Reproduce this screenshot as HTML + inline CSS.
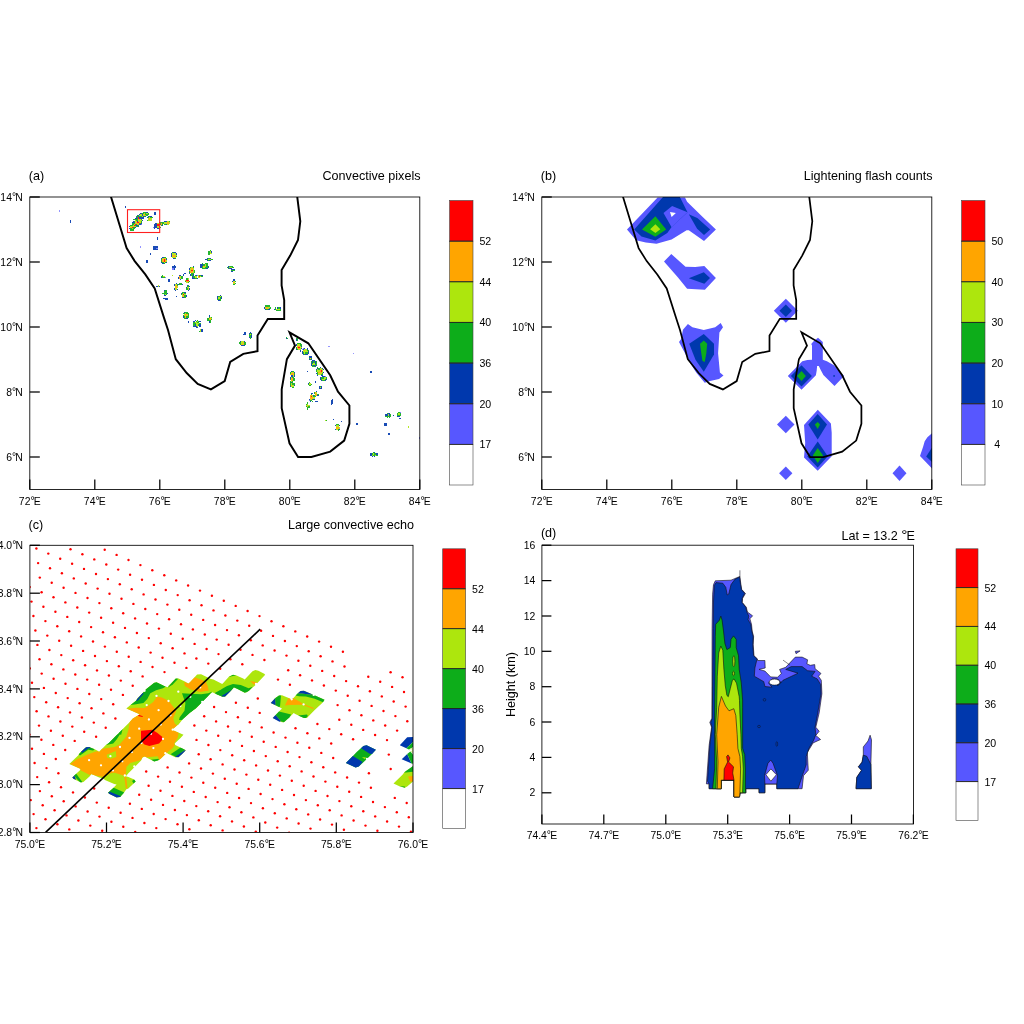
<!DOCTYPE html>
<html><head><meta charset="utf-8"><title>Figure</title>
<style>
html,body{margin:0;padding:0;background:#fff;}
svg{display:block;font-family:"Liberation Sans",sans-serif;fill:#000;}
</style></head><body>
<svg width="1024" height="1024" viewBox="0 0 1024 1024">
<rect width="1024" height="1024" fill="#fff"/>
<defs>
<clipPath id="ca"><rect x="30" y="197" width="390" height="292.3"/></clipPath>
<clipPath id="cb"><rect x="542" y="197" width="390" height="292.3"/></clipPath>
<clipPath id="cc"><rect x="30" y="546" width="383" height="286.3"/></clipPath>
<clipPath id="cd"><rect x="541.6" y="545.3" width="372" height="278"/></clipPath>
</defs>

<g id="panel-a">
<text x="28.8" y="179.8" font-size="12.60" text-anchor="start" >(a)</text>
<text x="420.5" y="179.8" font-size="12.60" text-anchor="end" >Convective pixels</text>
<g clip-path="url(#ca)" opacity="0.9" shape-rendering="crispEdges">
<rect x="125.28" y="205.55" width="1.20" height="1.20" fill="#0038ad"/>
<rect x="125.28" y="206.75" width="1.20" height="1.20" fill="#0038ad"/>
<rect x="129.12" y="225.82" width="1.20" height="1.20" fill="#0038ad"/>
<rect x="129.12" y="228.22" width="1.20" height="1.20" fill="#0038ad"/>
<rect x="130.32" y="224.62" width="1.20" height="1.20" fill="#0dad1a"/>
<rect x="130.32" y="225.82" width="1.20" height="1.20" fill="#ade60d"/>
<rect x="130.32" y="227.03" width="1.20" height="1.20" fill="#ffa500"/>
<rect x="130.32" y="228.22" width="1.20" height="1.20" fill="#0dad1a"/>
<rect x="130.32" y="229.43" width="1.20" height="1.20" fill="#0dad1a"/>
<rect x="131.53" y="225.82" width="1.20" height="1.20" fill="#ade60d"/>
<rect x="131.53" y="227.03" width="1.20" height="1.20" fill="#ff0000"/>
<rect x="131.53" y="228.22" width="1.20" height="1.20" fill="#ade60d"/>
<rect x="131.53" y="229.43" width="1.20" height="1.20" fill="#0dad1a"/>
<rect x="132.72" y="224.62" width="1.20" height="1.20" fill="#0038ad"/>
<rect x="132.72" y="225.82" width="1.20" height="1.20" fill="#0dad1a"/>
<rect x="132.72" y="227.03" width="1.20" height="1.20" fill="#ade60d"/>
<rect x="132.72" y="228.22" width="1.20" height="1.20" fill="#0dad1a"/>
<rect x="132.72" y="229.43" width="1.20" height="1.20" fill="#0dad1a"/>
<rect x="133.93" y="225.82" width="1.20" height="1.20" fill="#0038ad"/>
<rect x="133.93" y="227.03" width="1.20" height="1.20" fill="#0dad1a"/>
<rect x="133.93" y="228.22" width="1.20" height="1.20" fill="#0dad1a"/>
<rect x="131.55" y="222.25" width="1.20" height="1.20" fill="#0038ad"/>
<rect x="131.55" y="223.45" width="1.20" height="1.20" fill="#0dad1a"/>
<rect x="131.55" y="224.65" width="1.20" height="1.20" fill="#0dad1a"/>
<rect x="132.75" y="221.05" width="1.20" height="1.20" fill="#0038ad"/>
<rect x="132.75" y="222.25" width="1.20" height="1.20" fill="#0dad1a"/>
<rect x="132.75" y="223.45" width="1.20" height="1.20" fill="#0dad1a"/>
<rect x="132.75" y="224.65" width="1.20" height="1.20" fill="#ade60d"/>
<rect x="132.75" y="225.85" width="1.20" height="1.20" fill="#ade60d"/>
<rect x="132.75" y="227.05" width="1.20" height="1.20" fill="#0dad1a"/>
<rect x="133.95" y="221.05" width="1.20" height="1.20" fill="#0dad1a"/>
<rect x="133.95" y="222.25" width="1.20" height="1.20" fill="#ade60d"/>
<rect x="133.95" y="223.45" width="1.20" height="1.20" fill="#ffa500"/>
<rect x="133.95" y="224.65" width="1.20" height="1.20" fill="#ff0000"/>
<rect x="133.95" y="225.85" width="1.20" height="1.20" fill="#ffa500"/>
<rect x="133.95" y="227.05" width="1.20" height="1.20" fill="#0dad1a"/>
<rect x="135.15" y="221.05" width="1.20" height="1.20" fill="#0038ad"/>
<rect x="135.15" y="222.25" width="1.20" height="1.20" fill="#ade60d"/>
<rect x="135.15" y="223.45" width="1.20" height="1.20" fill="#ff0000"/>
<rect x="135.15" y="224.65" width="1.20" height="1.20" fill="#ff0000"/>
<rect x="135.15" y="225.85" width="1.20" height="1.20" fill="#ade60d"/>
<rect x="135.15" y="227.05" width="1.20" height="1.20" fill="#0038ad"/>
<rect x="136.35" y="223.45" width="1.20" height="1.20" fill="#ade60d"/>
<rect x="136.35" y="224.65" width="1.20" height="1.20" fill="#0dad1a"/>
<rect x="136.35" y="225.85" width="1.20" height="1.20" fill="#0dad1a"/>
<rect x="137.55" y="222.25" width="1.20" height="1.20" fill="#0038ad"/>
<rect x="137.55" y="223.45" width="1.20" height="1.20" fill="#0dad1a"/>
<rect x="137.55" y="224.65" width="1.20" height="1.20" fill="#0dad1a"/>
<rect x="137.55" y="225.85" width="1.20" height="1.20" fill="#0038ad"/>
<rect x="133.47" y="219.17" width="1.20" height="1.20" fill="#0dad1a"/>
<rect x="133.47" y="221.57" width="1.20" height="1.20" fill="#0038ad"/>
<rect x="133.47" y="222.78" width="1.20" height="1.20" fill="#0dad1a"/>
<rect x="134.67" y="217.97" width="1.20" height="1.20" fill="#0038ad"/>
<rect x="134.67" y="219.17" width="1.20" height="1.20" fill="#0dad1a"/>
<rect x="134.67" y="220.38" width="1.20" height="1.20" fill="#ade60d"/>
<rect x="134.67" y="221.57" width="1.20" height="1.20" fill="#ade60d"/>
<rect x="134.67" y="222.78" width="1.20" height="1.20" fill="#ade60d"/>
<rect x="134.67" y="225.17" width="1.20" height="1.20" fill="#0dad1a"/>
<rect x="135.88" y="217.97" width="1.20" height="1.20" fill="#0dad1a"/>
<rect x="135.88" y="219.17" width="1.20" height="1.20" fill="#ade60d"/>
<rect x="135.88" y="220.38" width="1.20" height="1.20" fill="#ffa500"/>
<rect x="135.88" y="221.57" width="1.20" height="1.20" fill="#ffa500"/>
<rect x="135.88" y="222.78" width="1.20" height="1.20" fill="#ffa500"/>
<rect x="135.88" y="223.97" width="1.20" height="1.20" fill="#0dad1a"/>
<rect x="135.88" y="225.17" width="1.20" height="1.20" fill="#0038ad"/>
<rect x="137.07" y="217.97" width="1.20" height="1.20" fill="#0038ad"/>
<rect x="137.07" y="219.17" width="1.20" height="1.20" fill="#ade60d"/>
<rect x="137.07" y="220.38" width="1.20" height="1.20" fill="#ffa500"/>
<rect x="137.07" y="221.57" width="1.20" height="1.20" fill="#ff0000"/>
<rect x="137.07" y="222.78" width="1.20" height="1.20" fill="#ffa500"/>
<rect x="137.07" y="223.97" width="1.20" height="1.20" fill="#ade60d"/>
<rect x="137.07" y="225.17" width="1.20" height="1.20" fill="#0038ad"/>
<rect x="138.28" y="219.17" width="1.20" height="1.20" fill="#ade60d"/>
<rect x="138.28" y="220.38" width="1.20" height="1.20" fill="#ffa500"/>
<rect x="138.28" y="221.57" width="1.20" height="1.20" fill="#ff0000"/>
<rect x="138.28" y="222.78" width="1.20" height="1.20" fill="#ffa500"/>
<rect x="138.28" y="223.97" width="1.20" height="1.20" fill="#ffa500"/>
<rect x="138.28" y="225.17" width="1.20" height="1.20" fill="#0dad1a"/>
<rect x="139.47" y="219.17" width="1.20" height="1.20" fill="#0038ad"/>
<rect x="139.47" y="220.38" width="1.20" height="1.20" fill="#ade60d"/>
<rect x="139.47" y="221.57" width="1.20" height="1.20" fill="#ffa500"/>
<rect x="139.47" y="222.78" width="1.20" height="1.20" fill="#0dad1a"/>
<rect x="139.47" y="223.97" width="1.20" height="1.20" fill="#0038ad"/>
<rect x="140.67" y="220.38" width="1.20" height="1.20" fill="#0dad1a"/>
<rect x="140.67" y="221.57" width="1.20" height="1.20" fill="#0dad1a"/>
<rect x="140.67" y="222.78" width="1.20" height="1.20" fill="#0038ad"/>
<rect x="140.67" y="223.97" width="1.20" height="1.20" fill="#6d6dff"/>
<rect x="136.05" y="216.25" width="1.20" height="1.20" fill="#0dad1a"/>
<rect x="136.05" y="217.45" width="1.20" height="1.20" fill="#0038ad"/>
<rect x="136.05" y="218.65" width="1.20" height="1.20" fill="#0dad1a"/>
<rect x="136.05" y="219.85" width="1.20" height="1.20" fill="#0dad1a"/>
<rect x="137.25" y="215.05" width="1.20" height="1.20" fill="#0038ad"/>
<rect x="137.25" y="216.25" width="1.20" height="1.20" fill="#0dad1a"/>
<rect x="137.25" y="217.45" width="1.20" height="1.20" fill="#0dad1a"/>
<rect x="137.25" y="218.65" width="1.20" height="1.20" fill="#0dad1a"/>
<rect x="137.25" y="219.85" width="1.20" height="1.20" fill="#0dad1a"/>
<rect x="137.25" y="221.05" width="1.20" height="1.20" fill="#0038ad"/>
<rect x="138.45" y="215.05" width="1.20" height="1.20" fill="#0dad1a"/>
<rect x="138.45" y="216.25" width="1.20" height="1.20" fill="#ffa500"/>
<rect x="138.45" y="217.45" width="1.20" height="1.20" fill="#ff0000"/>
<rect x="138.45" y="218.65" width="1.20" height="1.20" fill="#ffa500"/>
<rect x="138.45" y="219.85" width="1.20" height="1.20" fill="#ade60d"/>
<rect x="139.65" y="215.05" width="1.20" height="1.20" fill="#0038ad"/>
<rect x="139.65" y="216.25" width="1.20" height="1.20" fill="#ffa500"/>
<rect x="139.65" y="217.45" width="1.20" height="1.20" fill="#ff0000"/>
<rect x="139.65" y="218.65" width="1.20" height="1.20" fill="#ffa500"/>
<rect x="139.65" y="219.85" width="1.20" height="1.20" fill="#ade60d"/>
<rect x="140.85" y="215.05" width="1.20" height="1.20" fill="#0038ad"/>
<rect x="140.85" y="216.25" width="1.20" height="1.20" fill="#ade60d"/>
<rect x="140.85" y="217.45" width="1.20" height="1.20" fill="#ade60d"/>
<rect x="140.85" y="218.65" width="1.20" height="1.20" fill="#0dad1a"/>
<rect x="140.85" y="219.85" width="1.20" height="1.20" fill="#ade60d"/>
<rect x="140.85" y="221.05" width="1.20" height="1.20" fill="#0dad1a"/>
<rect x="142.05" y="216.25" width="1.20" height="1.20" fill="#0038ad"/>
<rect x="142.05" y="217.45" width="1.20" height="1.20" fill="#0dad1a"/>
<rect x="142.05" y="219.85" width="1.20" height="1.20" fill="#0038ad"/>
<rect x="138.05" y="215.03" width="1.20" height="1.20" fill="#0dad1a"/>
<rect x="138.05" y="216.22" width="1.20" height="1.20" fill="#0038ad"/>
<rect x="139.25" y="213.82" width="1.20" height="1.20" fill="#0038ad"/>
<rect x="139.25" y="215.03" width="1.20" height="1.20" fill="#ade60d"/>
<rect x="139.25" y="216.22" width="1.20" height="1.20" fill="#0dad1a"/>
<rect x="139.25" y="217.43" width="1.20" height="1.20" fill="#0038ad"/>
<rect x="140.45" y="212.62" width="1.20" height="1.20" fill="#0038ad"/>
<rect x="140.45" y="213.82" width="1.20" height="1.20" fill="#ade60d"/>
<rect x="140.45" y="215.03" width="1.20" height="1.20" fill="#ade60d"/>
<rect x="140.45" y="216.22" width="1.20" height="1.20" fill="#0dad1a"/>
<rect x="140.45" y="217.43" width="1.20" height="1.20" fill="#0038ad"/>
<rect x="141.65" y="212.62" width="1.20" height="1.20" fill="#0dad1a"/>
<rect x="141.65" y="213.82" width="1.20" height="1.20" fill="#ade60d"/>
<rect x="141.65" y="215.03" width="1.20" height="1.20" fill="#ade60d"/>
<rect x="141.65" y="216.22" width="1.20" height="1.20" fill="#ade60d"/>
<rect x="141.65" y="217.43" width="1.20" height="1.20" fill="#0038ad"/>
<rect x="142.85" y="212.62" width="1.20" height="1.20" fill="#0038ad"/>
<rect x="142.85" y="213.82" width="1.20" height="1.20" fill="#0dad1a"/>
<rect x="142.85" y="215.03" width="1.20" height="1.20" fill="#ade60d"/>
<rect x="142.85" y="216.22" width="1.20" height="1.20" fill="#0dad1a"/>
<rect x="142.85" y="217.43" width="1.20" height="1.20" fill="#0038ad"/>
<rect x="144.05" y="215.03" width="1.20" height="1.20" fill="#0038ad"/>
<rect x="144.05" y="216.22" width="1.20" height="1.20" fill="#0038ad"/>
<rect x="141.62" y="213.20" width="1.20" height="1.20" fill="#0dad1a"/>
<rect x="141.62" y="214.40" width="1.20" height="1.20" fill="#0038ad"/>
<rect x="142.82" y="212.00" width="1.20" height="1.20" fill="#0dad1a"/>
<rect x="142.82" y="213.20" width="1.20" height="1.20" fill="#0dad1a"/>
<rect x="142.82" y="214.40" width="1.20" height="1.20" fill="#ade60d"/>
<rect x="142.82" y="215.60" width="1.20" height="1.20" fill="#0038ad"/>
<rect x="144.03" y="212.00" width="1.20" height="1.20" fill="#0dad1a"/>
<rect x="144.03" y="213.20" width="1.20" height="1.20" fill="#ade60d"/>
<rect x="144.03" y="214.40" width="1.20" height="1.20" fill="#ffa500"/>
<rect x="144.03" y="215.60" width="1.20" height="1.20" fill="#0dad1a"/>
<rect x="145.22" y="212.00" width="1.20" height="1.20" fill="#0dad1a"/>
<rect x="145.22" y="213.20" width="1.20" height="1.20" fill="#ade60d"/>
<rect x="145.22" y="214.40" width="1.20" height="1.20" fill="#ade60d"/>
<rect x="145.22" y="215.60" width="1.20" height="1.20" fill="#0038ad"/>
<rect x="146.43" y="213.20" width="1.20" height="1.20" fill="#0038ad"/>
<rect x="146.43" y="214.40" width="1.20" height="1.20" fill="#0dad1a"/>
<rect x="145.28" y="211.78" width="1.20" height="1.20" fill="#0dad1a"/>
<rect x="145.28" y="212.97" width="1.20" height="1.20" fill="#0dad1a"/>
<rect x="145.28" y="214.18" width="1.20" height="1.20" fill="#0dad1a"/>
<rect x="146.47" y="211.78" width="1.20" height="1.20" fill="#0038ad"/>
<rect x="146.47" y="212.97" width="1.20" height="1.20" fill="#ade60d"/>
<rect x="146.47" y="214.18" width="1.20" height="1.20" fill="#0dad1a"/>
<rect x="147.68" y="212.97" width="1.20" height="1.20" fill="#0dad1a"/>
<rect x="147.68" y="214.18" width="1.20" height="1.20" fill="#0dad1a"/>
<rect x="146.82" y="217.22" width="1.20" height="1.20" fill="#0038ad"/>
<rect x="146.82" y="219.62" width="1.20" height="1.20" fill="#0dad1a"/>
<rect x="148.02" y="216.03" width="1.20" height="1.20" fill="#0038ad"/>
<rect x="148.02" y="217.22" width="1.20" height="1.20" fill="#0dad1a"/>
<rect x="148.02" y="218.43" width="1.20" height="1.20" fill="#ade60d"/>
<rect x="148.02" y="219.62" width="1.20" height="1.20" fill="#ade60d"/>
<rect x="149.22" y="216.03" width="1.20" height="1.20" fill="#0dad1a"/>
<rect x="149.22" y="217.22" width="1.20" height="1.20" fill="#ade60d"/>
<rect x="149.22" y="218.43" width="1.20" height="1.20" fill="#ffa500"/>
<rect x="149.22" y="219.62" width="1.20" height="1.20" fill="#ade60d"/>
<rect x="150.42" y="216.03" width="1.20" height="1.20" fill="#0038ad"/>
<rect x="150.42" y="217.22" width="1.20" height="1.20" fill="#0dad1a"/>
<rect x="150.42" y="218.43" width="1.20" height="1.20" fill="#ade60d"/>
<rect x="150.42" y="219.62" width="1.20" height="1.20" fill="#ade60d"/>
<rect x="151.62" y="217.22" width="1.20" height="1.20" fill="#0dad1a"/>
<rect x="153.55" y="211.68" width="1.20" height="1.20" fill="#0038ad"/>
<rect x="153.55" y="212.88" width="1.20" height="1.20" fill="#0038ad"/>
<rect x="153.55" y="214.08" width="1.20" height="1.20" fill="#0038ad"/>
<rect x="154.75" y="211.68" width="1.20" height="1.20" fill="#0038ad"/>
<rect x="154.75" y="212.88" width="1.20" height="1.20" fill="#0038ad"/>
<rect x="154.75" y="214.08" width="1.20" height="1.20" fill="#0038ad"/>
<rect x="152.70" y="226.72" width="1.20" height="1.20" fill="#6d6dff"/>
<rect x="153.90" y="224.32" width="1.20" height="1.20" fill="#0038ad"/>
<rect x="153.90" y="225.53" width="1.20" height="1.20" fill="#0038ad"/>
<rect x="153.90" y="226.72" width="1.20" height="1.20" fill="#0038ad"/>
<rect x="153.90" y="227.93" width="1.20" height="1.20" fill="#0038ad"/>
<rect x="155.10" y="223.12" width="1.20" height="1.20" fill="#0038ad"/>
<rect x="155.10" y="224.32" width="1.20" height="1.20" fill="#0038ad"/>
<rect x="155.10" y="225.53" width="1.20" height="1.20" fill="#0038ad"/>
<rect x="155.10" y="226.72" width="1.20" height="1.20" fill="#0038ad"/>
<rect x="156.30" y="225.53" width="1.20" height="1.20" fill="#0038ad"/>
<rect x="156.30" y="226.72" width="1.20" height="1.20" fill="#0038ad"/>
<rect x="156.20" y="223.25" width="1.20" height="1.20" fill="#0038ad"/>
<rect x="156.20" y="224.45" width="1.20" height="1.20" fill="#0038ad"/>
<rect x="156.20" y="225.65" width="1.20" height="1.20" fill="#0038ad"/>
<rect x="156.20" y="226.85" width="1.20" height="1.20" fill="#0038ad"/>
<rect x="157.40" y="223.25" width="1.20" height="1.20" fill="#ade60d"/>
<rect x="157.40" y="224.45" width="1.20" height="1.20" fill="#ff0000"/>
<rect x="157.40" y="225.65" width="1.20" height="1.20" fill="#ade60d"/>
<rect x="157.40" y="226.85" width="1.20" height="1.20" fill="#ade60d"/>
<rect x="157.40" y="228.05" width="1.20" height="1.20" fill="#0038ad"/>
<rect x="158.60" y="222.05" width="1.20" height="1.20" fill="#0dad1a"/>
<rect x="158.60" y="223.25" width="1.20" height="1.20" fill="#ade60d"/>
<rect x="158.60" y="224.45" width="1.20" height="1.20" fill="#ffa500"/>
<rect x="158.60" y="225.65" width="1.20" height="1.20" fill="#ff0000"/>
<rect x="158.60" y="226.85" width="1.20" height="1.20" fill="#ade60d"/>
<rect x="158.60" y="228.05" width="1.20" height="1.20" fill="#0dad1a"/>
<rect x="159.80" y="223.25" width="1.20" height="1.20" fill="#0dad1a"/>
<rect x="159.80" y="226.85" width="1.20" height="1.20" fill="#0dad1a"/>
<rect x="158.62" y="223.90" width="1.20" height="1.20" fill="#0dad1a"/>
<rect x="159.82" y="221.50" width="1.20" height="1.20" fill="#0dad1a"/>
<rect x="159.82" y="222.70" width="1.20" height="1.20" fill="#0dad1a"/>
<rect x="159.82" y="223.90" width="1.20" height="1.20" fill="#0dad1a"/>
<rect x="161.03" y="221.50" width="1.20" height="1.20" fill="#0dad1a"/>
<rect x="161.03" y="222.70" width="1.20" height="1.20" fill="#ffa500"/>
<rect x="161.03" y="223.90" width="1.20" height="1.20" fill="#ffa500"/>
<rect x="161.03" y="225.10" width="1.20" height="1.20" fill="#0dad1a"/>
<rect x="162.22" y="221.50" width="1.20" height="1.20" fill="#0dad1a"/>
<rect x="162.22" y="222.70" width="1.20" height="1.20" fill="#0dad1a"/>
<rect x="162.22" y="223.90" width="1.20" height="1.20" fill="#0dad1a"/>
<rect x="162.22" y="225.10" width="1.20" height="1.20" fill="#0038ad"/>
<rect x="163.43" y="222.70" width="1.20" height="1.20" fill="#0dad1a"/>
<rect x="163.28" y="222.47" width="1.20" height="1.20" fill="#0dad1a"/>
<rect x="164.47" y="221.28" width="1.20" height="1.20" fill="#0038ad"/>
<rect x="164.47" y="222.47" width="1.20" height="1.20" fill="#ade60d"/>
<rect x="164.47" y="223.68" width="1.20" height="1.20" fill="#0dad1a"/>
<rect x="165.68" y="221.28" width="1.20" height="1.20" fill="#0038ad"/>
<rect x="165.68" y="222.47" width="1.20" height="1.20" fill="#0dad1a"/>
<rect x="165.68" y="223.68" width="1.20" height="1.20" fill="#0038ad"/>
<rect x="166.28" y="221.28" width="1.20" height="1.20" fill="#0038ad"/>
<rect x="166.28" y="222.47" width="1.20" height="1.20" fill="#ade60d"/>
<rect x="166.28" y="223.68" width="1.20" height="1.20" fill="#0038ad"/>
<rect x="167.47" y="221.28" width="1.20" height="1.20" fill="#ade60d"/>
<rect x="167.47" y="222.47" width="1.20" height="1.20" fill="#ffa500"/>
<rect x="167.47" y="223.68" width="1.20" height="1.20" fill="#ade60d"/>
<rect x="168.68" y="221.28" width="1.20" height="1.20" fill="#0dad1a"/>
<rect x="168.68" y="222.47" width="1.20" height="1.20" fill="#ade60d"/>
<rect x="157.24" y="237.25" width="1.20" height="1.20" fill="#0038ad"/>
<rect x="157.24" y="238.45" width="1.20" height="1.20" fill="#0038ad"/>
<rect x="139.6" y="246.2" width="1.5" height="1.5" fill="#8a8aff"/>
<rect x="152.70" y="246.38" width="1.20" height="1.20" fill="#0038ad"/>
<rect x="152.70" y="247.57" width="1.20" height="1.20" fill="#0038ad"/>
<rect x="152.70" y="248.78" width="1.20" height="1.20" fill="#0038ad"/>
<rect x="153.90" y="246.38" width="1.20" height="1.20" fill="#0038ad"/>
<rect x="153.90" y="247.57" width="1.20" height="1.20" fill="#0038ad"/>
<rect x="153.90" y="248.78" width="1.20" height="1.20" fill="#0038ad"/>
<rect x="155.10" y="246.38" width="1.20" height="1.20" fill="#0038ad"/>
<rect x="155.10" y="247.57" width="1.20" height="1.20" fill="#0038ad"/>
<rect x="155.10" y="248.78" width="1.20" height="1.20" fill="#0038ad"/>
<rect x="156.30" y="246.38" width="1.20" height="1.20" fill="#0038ad"/>
<rect x="156.30" y="247.57" width="1.20" height="1.20" fill="#6d6dff"/>
<rect x="156.30" y="248.78" width="1.20" height="1.20" fill="#0038ad"/>
<rect x="149.94" y="253.06" width="1.20" height="1.20" fill="#0038ad"/>
<rect x="149.94" y="254.26" width="1.20" height="1.20" fill="#0038ad"/>
<rect x="146.34" y="260.25" width="1.20" height="1.20" fill="#0038ad"/>
<rect x="146.34" y="261.45" width="1.20" height="1.20" fill="#0038ad"/>
<rect x="161.22" y="258.05" width="1.20" height="1.20" fill="#0038ad"/>
<rect x="161.22" y="259.25" width="1.20" height="1.20" fill="#0dad1a"/>
<rect x="161.22" y="260.45" width="1.20" height="1.20" fill="#0dad1a"/>
<rect x="161.22" y="261.65" width="1.20" height="1.20" fill="#0038ad"/>
<rect x="162.42" y="256.85" width="1.20" height="1.20" fill="#0038ad"/>
<rect x="162.42" y="258.05" width="1.20" height="1.20" fill="#ade60d"/>
<rect x="162.42" y="259.25" width="1.20" height="1.20" fill="#ffa500"/>
<rect x="162.42" y="260.45" width="1.20" height="1.20" fill="#ffa500"/>
<rect x="162.42" y="261.65" width="1.20" height="1.20" fill="#0dad1a"/>
<rect x="162.42" y="262.85" width="1.20" height="1.20" fill="#0038ad"/>
<rect x="163.62" y="256.85" width="1.20" height="1.20" fill="#0dad1a"/>
<rect x="163.62" y="258.05" width="1.20" height="1.20" fill="#ffa500"/>
<rect x="163.62" y="259.25" width="1.20" height="1.20" fill="#ff0000"/>
<rect x="163.62" y="260.45" width="1.20" height="1.20" fill="#ff0000"/>
<rect x="163.62" y="261.65" width="1.20" height="1.20" fill="#ade60d"/>
<rect x="163.62" y="262.85" width="1.20" height="1.20" fill="#0dad1a"/>
<rect x="164.82" y="256.85" width="1.20" height="1.20" fill="#0dad1a"/>
<rect x="164.82" y="258.05" width="1.20" height="1.20" fill="#ade60d"/>
<rect x="164.82" y="259.25" width="1.20" height="1.20" fill="#ffa500"/>
<rect x="164.82" y="260.45" width="1.20" height="1.20" fill="#ffa500"/>
<rect x="164.82" y="261.65" width="1.20" height="1.20" fill="#0dad1a"/>
<rect x="166.03" y="258.05" width="1.20" height="1.20" fill="#0dad1a"/>
<rect x="166.03" y="259.25" width="1.20" height="1.20" fill="#0038ad"/>
<rect x="166.03" y="260.45" width="1.20" height="1.20" fill="#ade60d"/>
<rect x="166.03" y="261.65" width="1.20" height="1.20" fill="#0038ad"/>
<rect x="170.93" y="253.35" width="1.20" height="1.20" fill="#0038ad"/>
<rect x="170.93" y="254.55" width="1.20" height="1.20" fill="#0038ad"/>
<rect x="170.93" y="255.75" width="1.20" height="1.20" fill="#0038ad"/>
<rect x="172.12" y="252.15" width="1.20" height="1.20" fill="#0dad1a"/>
<rect x="172.12" y="253.35" width="1.20" height="1.20" fill="#ade60d"/>
<rect x="172.12" y="254.55" width="1.20" height="1.20" fill="#ffa500"/>
<rect x="172.12" y="255.75" width="1.20" height="1.20" fill="#ade60d"/>
<rect x="172.12" y="256.95" width="1.20" height="1.20" fill="#ade60d"/>
<rect x="173.33" y="252.15" width="1.20" height="1.20" fill="#0038ad"/>
<rect x="173.33" y="253.35" width="1.20" height="1.20" fill="#ade60d"/>
<rect x="173.33" y="254.55" width="1.20" height="1.20" fill="#ffa500"/>
<rect x="173.33" y="255.75" width="1.20" height="1.20" fill="#ffa500"/>
<rect x="173.33" y="256.95" width="1.20" height="1.20" fill="#ade60d"/>
<rect x="173.33" y="258.15" width="1.20" height="1.20" fill="#0038ad"/>
<rect x="174.53" y="252.15" width="1.20" height="1.20" fill="#0038ad"/>
<rect x="174.53" y="253.35" width="1.20" height="1.20" fill="#ade60d"/>
<rect x="174.53" y="254.55" width="1.20" height="1.20" fill="#ade60d"/>
<rect x="174.53" y="255.75" width="1.20" height="1.20" fill="#ffa500"/>
<rect x="174.53" y="256.95" width="1.20" height="1.20" fill="#ade60d"/>
<rect x="174.53" y="258.15" width="1.20" height="1.20" fill="#0dad1a"/>
<rect x="175.73" y="253.35" width="1.20" height="1.20" fill="#0038ad"/>
<rect x="175.73" y="254.55" width="1.20" height="1.20" fill="#ade60d"/>
<rect x="175.73" y="255.75" width="1.20" height="1.20" fill="#0dad1a"/>
<rect x="172.38" y="265.90" width="1.20" height="1.20" fill="#0038ad"/>
<rect x="172.38" y="267.10" width="1.20" height="1.20" fill="#0038ad"/>
<rect x="172.38" y="268.30" width="1.20" height="1.20" fill="#6d6dff"/>
<rect x="173.57" y="264.70" width="1.20" height="1.20" fill="#0038ad"/>
<rect x="173.57" y="265.90" width="1.20" height="1.20" fill="#0038ad"/>
<rect x="173.57" y="267.10" width="1.20" height="1.20" fill="#0038ad"/>
<rect x="173.57" y="268.30" width="1.20" height="1.20" fill="#0038ad"/>
<rect x="174.78" y="265.90" width="1.20" height="1.20" fill="#0038ad"/>
<rect x="174.78" y="267.10" width="1.20" height="1.20" fill="#0038ad"/>
<rect x="208.47" y="251.40" width="1.20" height="1.20" fill="#0dad1a"/>
<rect x="208.47" y="252.60" width="1.20" height="1.20" fill="#0dad1a"/>
<rect x="208.47" y="253.80" width="1.20" height="1.20" fill="#0dad1a"/>
<rect x="209.67" y="250.20" width="1.20" height="1.20" fill="#0dad1a"/>
<rect x="209.67" y="251.40" width="1.20" height="1.20" fill="#ade60d"/>
<rect x="209.67" y="252.60" width="1.20" height="1.20" fill="#ade60d"/>
<rect x="210.88" y="251.40" width="1.20" height="1.20" fill="#0038ad"/>
<rect x="210.88" y="252.60" width="1.20" height="1.20" fill="#ade60d"/>
<rect x="205.45" y="258.97" width="1.20" height="1.20" fill="#0038ad"/>
<rect x="206.65" y="257.77" width="1.20" height="1.20" fill="#0038ad"/>
<rect x="206.65" y="258.97" width="1.20" height="1.20" fill="#0dad1a"/>
<rect x="206.65" y="260.17" width="1.20" height="1.20" fill="#0038ad"/>
<rect x="207.85" y="257.77" width="1.20" height="1.20" fill="#0dad1a"/>
<rect x="207.85" y="258.97" width="1.20" height="1.20" fill="#ade60d"/>
<rect x="207.85" y="260.17" width="1.20" height="1.20" fill="#0dad1a"/>
<rect x="209.05" y="257.77" width="1.20" height="1.20" fill="#0dad1a"/>
<rect x="209.05" y="258.97" width="1.20" height="1.20" fill="#ade60d"/>
<rect x="209.05" y="260.17" width="1.20" height="1.20" fill="#0038ad"/>
<rect x="210.25" y="257.77" width="1.20" height="1.20" fill="#0038ad"/>
<rect x="210.25" y="258.97" width="1.20" height="1.20" fill="#ade60d"/>
<rect x="210.25" y="260.17" width="1.20" height="1.20" fill="#0038ad"/>
<rect x="211.45" y="258.97" width="1.20" height="1.20" fill="#0dad1a"/>
<rect x="200.38" y="264.43" width="1.20" height="1.20" fill="#0038ad"/>
<rect x="200.38" y="265.62" width="1.20" height="1.20" fill="#0038ad"/>
<rect x="200.38" y="266.83" width="1.20" height="1.20" fill="#0038ad"/>
<rect x="201.57" y="263.23" width="1.20" height="1.20" fill="#0dad1a"/>
<rect x="201.57" y="264.43" width="1.20" height="1.20" fill="#0038ad"/>
<rect x="201.57" y="265.62" width="1.20" height="1.20" fill="#0dad1a"/>
<rect x="201.57" y="266.83" width="1.20" height="1.20" fill="#0dad1a"/>
<rect x="201.57" y="268.03" width="1.20" height="1.20" fill="#0dad1a"/>
<rect x="202.78" y="264.43" width="1.20" height="1.20" fill="#0dad1a"/>
<rect x="202.78" y="265.62" width="1.20" height="1.20" fill="#ffa500"/>
<rect x="202.78" y="266.83" width="1.20" height="1.20" fill="#ade60d"/>
<rect x="202.78" y="268.03" width="1.20" height="1.20" fill="#0dad1a"/>
<rect x="203.97" y="264.43" width="1.20" height="1.20" fill="#0dad1a"/>
<rect x="203.97" y="265.62" width="1.20" height="1.20" fill="#ffa500"/>
<rect x="203.97" y="266.83" width="1.20" height="1.20" fill="#ade60d"/>
<rect x="203.97" y="268.03" width="1.20" height="1.20" fill="#0dad1a"/>
<rect x="205.18" y="263.23" width="1.20" height="1.20" fill="#0dad1a"/>
<rect x="205.18" y="264.43" width="1.20" height="1.20" fill="#ade60d"/>
<rect x="205.18" y="265.62" width="1.20" height="1.20" fill="#ade60d"/>
<rect x="205.18" y="266.83" width="1.20" height="1.20" fill="#0dad1a"/>
<rect x="205.18" y="268.03" width="1.20" height="1.20" fill="#0dad1a"/>
<rect x="206.38" y="263.23" width="1.20" height="1.20" fill="#0dad1a"/>
<rect x="206.38" y="264.43" width="1.20" height="1.20" fill="#0dad1a"/>
<rect x="206.38" y="265.62" width="1.20" height="1.20" fill="#0dad1a"/>
<rect x="206.38" y="266.83" width="1.20" height="1.20" fill="#0dad1a"/>
<rect x="206.38" y="268.03" width="1.20" height="1.20" fill="#0038ad"/>
<rect x="207.57" y="265.62" width="1.20" height="1.20" fill="#0038ad"/>
<rect x="207.57" y="266.83" width="1.20" height="1.20" fill="#0038ad"/>
<rect x="189.03" y="268.30" width="1.20" height="1.20" fill="#0038ad"/>
<rect x="189.03" y="269.50" width="1.20" height="1.20" fill="#ade60d"/>
<rect x="189.03" y="270.70" width="1.20" height="1.20" fill="#0dad1a"/>
<rect x="189.03" y="271.90" width="1.20" height="1.20" fill="#0038ad"/>
<rect x="189.03" y="273.10" width="1.20" height="1.20" fill="#0dad1a"/>
<rect x="190.22" y="267.10" width="1.20" height="1.20" fill="#0dad1a"/>
<rect x="190.22" y="268.30" width="1.20" height="1.20" fill="#ade60d"/>
<rect x="190.22" y="269.50" width="1.20" height="1.20" fill="#ade60d"/>
<rect x="190.22" y="270.70" width="1.20" height="1.20" fill="#ffa500"/>
<rect x="190.22" y="271.90" width="1.20" height="1.20" fill="#ffa500"/>
<rect x="190.22" y="274.30" width="1.20" height="1.20" fill="#0038ad"/>
<rect x="191.43" y="267.10" width="1.20" height="1.20" fill="#ade60d"/>
<rect x="191.43" y="268.30" width="1.20" height="1.20" fill="#ffa500"/>
<rect x="191.43" y="269.50" width="1.20" height="1.20" fill="#ff0000"/>
<rect x="191.43" y="270.70" width="1.20" height="1.20" fill="#ffa500"/>
<rect x="191.43" y="271.90" width="1.20" height="1.20" fill="#ffa500"/>
<rect x="191.43" y="273.10" width="1.20" height="1.20" fill="#0dad1a"/>
<rect x="191.43" y="274.30" width="1.20" height="1.20" fill="#0dad1a"/>
<rect x="192.62" y="265.90" width="1.20" height="1.20" fill="#0038ad"/>
<rect x="192.62" y="267.10" width="1.20" height="1.20" fill="#0dad1a"/>
<rect x="192.62" y="268.30" width="1.20" height="1.20" fill="#ade60d"/>
<rect x="192.62" y="269.50" width="1.20" height="1.20" fill="#ade60d"/>
<rect x="192.62" y="270.70" width="1.20" height="1.20" fill="#ade60d"/>
<rect x="192.62" y="271.90" width="1.20" height="1.20" fill="#ade60d"/>
<rect x="192.62" y="273.10" width="1.20" height="1.20" fill="#0dad1a"/>
<rect x="192.62" y="274.30" width="1.20" height="1.20" fill="#0038ad"/>
<rect x="193.83" y="269.50" width="1.20" height="1.20" fill="#0dad1a"/>
<rect x="193.83" y="270.70" width="1.20" height="1.20" fill="#0dad1a"/>
<rect x="193.83" y="271.90" width="1.20" height="1.20" fill="#0dad1a"/>
<rect x="192.12" y="275.27" width="1.20" height="1.20" fill="#0dad1a"/>
<rect x="192.12" y="276.47" width="1.20" height="1.20" fill="#0038ad"/>
<rect x="192.12" y="277.67" width="1.20" height="1.20" fill="#0038ad"/>
<rect x="193.32" y="276.47" width="1.20" height="1.20" fill="#0dad1a"/>
<rect x="193.32" y="277.67" width="1.20" height="1.20" fill="#0038ad"/>
<rect x="194.53" y="275.27" width="1.20" height="1.20" fill="#0dad1a"/>
<rect x="194.53" y="276.47" width="1.20" height="1.20" fill="#ade60d"/>
<rect x="194.53" y="277.67" width="1.20" height="1.20" fill="#0dad1a"/>
<rect x="195.72" y="275.27" width="1.20" height="1.20" fill="#0038ad"/>
<rect x="195.72" y="276.47" width="1.20" height="1.20" fill="#ade60d"/>
<rect x="195.72" y="277.67" width="1.20" height="1.20" fill="#0dad1a"/>
<rect x="196.93" y="277.67" width="1.20" height="1.20" fill="#0038ad"/>
<rect x="196.62" y="274.77" width="1.20" height="1.20" fill="#6d6dff"/>
<rect x="197.82" y="274.77" width="1.20" height="1.20" fill="#ade60d"/>
<rect x="197.82" y="275.97" width="1.20" height="1.20" fill="#ffa500"/>
<rect x="197.82" y="277.17" width="1.20" height="1.20" fill="#ade60d"/>
<rect x="199.03" y="274.77" width="1.20" height="1.20" fill="#0dad1a"/>
<rect x="199.03" y="275.97" width="1.20" height="1.20" fill="#ff0000"/>
<rect x="199.03" y="277.17" width="1.20" height="1.20" fill="#ade60d"/>
<rect x="200.22" y="274.77" width="1.20" height="1.20" fill="#0dad1a"/>
<rect x="200.22" y="275.97" width="1.20" height="1.20" fill="#ade60d"/>
<rect x="201.43" y="274.77" width="1.20" height="1.20" fill="#0038ad"/>
<rect x="201.43" y="275.97" width="1.20" height="1.20" fill="#0dad1a"/>
<rect x="185.20" y="279.50" width="1.20" height="1.20" fill="#ade60d"/>
<rect x="185.20" y="280.70" width="1.20" height="1.20" fill="#0dad1a"/>
<rect x="186.40" y="278.30" width="1.20" height="1.20" fill="#0dad1a"/>
<rect x="186.40" y="279.50" width="1.20" height="1.20" fill="#ff0000"/>
<rect x="186.40" y="280.70" width="1.20" height="1.20" fill="#ffa500"/>
<rect x="186.40" y="281.90" width="1.20" height="1.20" fill="#ade60d"/>
<rect x="187.60" y="278.30" width="1.20" height="1.20" fill="#ade60d"/>
<rect x="187.60" y="279.50" width="1.20" height="1.20" fill="#ff0000"/>
<rect x="187.60" y="280.70" width="1.20" height="1.20" fill="#ffa500"/>
<rect x="187.60" y="281.90" width="1.20" height="1.20" fill="#0dad1a"/>
<rect x="188.80" y="280.70" width="1.20" height="1.20" fill="#0dad1a"/>
<rect x="177.70" y="277.30" width="1.20" height="1.20" fill="#0038ad"/>
<rect x="178.90" y="274.90" width="1.20" height="1.20" fill="#0038ad"/>
<rect x="178.90" y="276.10" width="1.20" height="1.20" fill="#ffa500"/>
<rect x="178.90" y="277.30" width="1.20" height="1.20" fill="#ffa500"/>
<rect x="180.10" y="274.90" width="1.20" height="1.20" fill="#0038ad"/>
<rect x="180.10" y="276.10" width="1.20" height="1.20" fill="#ade60d"/>
<rect x="180.10" y="277.30" width="1.20" height="1.20" fill="#ade60d"/>
<rect x="180.10" y="278.50" width="1.20" height="1.20" fill="#0038ad"/>
<rect x="181.30" y="276.10" width="1.20" height="1.20" fill="#0dad1a"/>
<rect x="181.30" y="277.30" width="1.20" height="1.20" fill="#0dad1a"/>
<rect x="183.25" y="274.45" width="1.20" height="1.20" fill="#0038ad"/>
<rect x="184.45" y="273.25" width="1.20" height="1.20" fill="#0038ad"/>
<rect x="161.00" y="275.77" width="1.20" height="1.20" fill="#0dad1a"/>
<rect x="161.00" y="276.97" width="1.20" height="1.20" fill="#0038ad"/>
<rect x="162.20" y="274.57" width="1.20" height="1.20" fill="#0dad1a"/>
<rect x="162.20" y="275.77" width="1.20" height="1.20" fill="#0dad1a"/>
<rect x="162.20" y="276.97" width="1.20" height="1.20" fill="#0dad1a"/>
<rect x="163.40" y="275.77" width="1.20" height="1.20" fill="#ade60d"/>
<rect x="163.40" y="276.97" width="1.20" height="1.20" fill="#0dad1a"/>
<rect x="164.60" y="276.97" width="1.20" height="1.20" fill="#6d6dff"/>
<rect x="167.65" y="278.88" width="1.20" height="1.20" fill="#0038ad"/>
<rect x="167.65" y="280.07" width="1.20" height="1.20" fill="#0038ad"/>
<rect x="167.65" y="281.27" width="1.20" height="1.20" fill="#0038ad"/>
<rect x="168.85" y="278.88" width="1.20" height="1.20" fill="#0038ad"/>
<rect x="168.85" y="280.07" width="1.20" height="1.20" fill="#0038ad"/>
<rect x="168.85" y="281.27" width="1.20" height="1.20" fill="#0038ad"/>
<rect x="171.51" y="275.14" width="1.20" height="1.20" fill="#ade60d"/>
<rect x="156.38" y="286.15" width="1.20" height="1.20" fill="#0038ad"/>
<rect x="157.57" y="284.95" width="1.20" height="1.20" fill="#ade60d"/>
<rect x="157.57" y="286.15" width="1.20" height="1.20" fill="#ade60d"/>
<rect x="158.78" y="286.15" width="1.20" height="1.20" fill="#0038ad"/>
<rect x="173.50" y="284.07" width="1.20" height="1.20" fill="#0038ad"/>
<rect x="173.50" y="285.27" width="1.20" height="1.20" fill="#0038ad"/>
<rect x="173.50" y="287.68" width="1.20" height="1.20" fill="#0038ad"/>
<rect x="173.50" y="288.88" width="1.20" height="1.20" fill="#0038ad"/>
<rect x="174.70" y="284.07" width="1.20" height="1.20" fill="#ade60d"/>
<rect x="174.70" y="285.27" width="1.20" height="1.20" fill="#ade60d"/>
<rect x="174.70" y="286.48" width="1.20" height="1.20" fill="#ffa500"/>
<rect x="174.70" y="287.68" width="1.20" height="1.20" fill="#ade60d"/>
<rect x="174.70" y="288.88" width="1.20" height="1.20" fill="#ade60d"/>
<rect x="174.70" y="290.07" width="1.20" height="1.20" fill="#0038ad"/>
<rect x="175.90" y="282.88" width="1.20" height="1.20" fill="#0038ad"/>
<rect x="175.90" y="284.07" width="1.20" height="1.20" fill="#ade60d"/>
<rect x="175.90" y="285.27" width="1.20" height="1.20" fill="#ffa500"/>
<rect x="175.90" y="286.48" width="1.20" height="1.20" fill="#ffa500"/>
<rect x="175.90" y="287.68" width="1.20" height="1.20" fill="#ade60d"/>
<rect x="175.90" y="288.88" width="1.20" height="1.20" fill="#ade60d"/>
<rect x="177.10" y="284.07" width="1.20" height="1.20" fill="#0dad1a"/>
<rect x="177.10" y="285.27" width="1.20" height="1.20" fill="#0dad1a"/>
<rect x="177.10" y="286.48" width="1.20" height="1.20" fill="#ade60d"/>
<rect x="177.10" y="288.88" width="1.20" height="1.20" fill="#0038ad"/>
<rect x="178.20" y="283.85" width="1.20" height="1.20" fill="#0038ad"/>
<rect x="179.40" y="282.65" width="1.20" height="1.20" fill="#0dad1a"/>
<rect x="179.40" y="283.85" width="1.20" height="1.20" fill="#0dad1a"/>
<rect x="180.60" y="282.65" width="1.20" height="1.20" fill="#0dad1a"/>
<rect x="180.60" y="283.85" width="1.20" height="1.20" fill="#0dad1a"/>
<rect x="181.80" y="283.85" width="1.20" height="1.20" fill="#0038ad"/>
<rect x="185.50" y="287.22" width="1.20" height="1.20" fill="#0038ad"/>
<rect x="185.50" y="288.43" width="1.20" height="1.20" fill="#0dad1a"/>
<rect x="186.70" y="284.82" width="1.20" height="1.20" fill="#0038ad"/>
<rect x="186.70" y="286.02" width="1.20" height="1.20" fill="#0dad1a"/>
<rect x="186.70" y="287.22" width="1.20" height="1.20" fill="#ade60d"/>
<rect x="186.70" y="288.43" width="1.20" height="1.20" fill="#0dad1a"/>
<rect x="187.90" y="284.82" width="1.20" height="1.20" fill="#0dad1a"/>
<rect x="187.90" y="286.02" width="1.20" height="1.20" fill="#0dad1a"/>
<rect x="187.90" y="287.22" width="1.20" height="1.20" fill="#ade60d"/>
<rect x="187.90" y="288.43" width="1.20" height="1.20" fill="#ade60d"/>
<rect x="187.90" y="289.62" width="1.20" height="1.20" fill="#0038ad"/>
<rect x="189.10" y="286.02" width="1.20" height="1.20" fill="#0038ad"/>
<rect x="189.10" y="288.43" width="1.20" height="1.20" fill="#0038ad"/>
<rect x="162.43" y="292.62" width="1.20" height="1.20" fill="#0dad1a"/>
<rect x="163.62" y="290.23" width="1.20" height="1.20" fill="#0038ad"/>
<rect x="163.62" y="291.43" width="1.20" height="1.20" fill="#0dad1a"/>
<rect x="163.62" y="292.62" width="1.20" height="1.20" fill="#0dad1a"/>
<rect x="163.62" y="293.83" width="1.20" height="1.20" fill="#0dad1a"/>
<rect x="163.62" y="295.03" width="1.20" height="1.20" fill="#0038ad"/>
<rect x="164.83" y="290.23" width="1.20" height="1.20" fill="#0dad1a"/>
<rect x="164.83" y="291.43" width="1.20" height="1.20" fill="#0dad1a"/>
<rect x="164.83" y="292.62" width="1.20" height="1.20" fill="#0dad1a"/>
<rect x="164.83" y="293.83" width="1.20" height="1.20" fill="#ade60d"/>
<rect x="164.83" y="295.03" width="1.20" height="1.20" fill="#0038ad"/>
<rect x="166.03" y="290.23" width="1.20" height="1.20" fill="#0dad1a"/>
<rect x="166.03" y="291.43" width="1.20" height="1.20" fill="#0dad1a"/>
<rect x="166.03" y="292.62" width="1.20" height="1.20" fill="#0dad1a"/>
<rect x="166.03" y="293.83" width="1.20" height="1.20" fill="#0dad1a"/>
<rect x="167.23" y="292.62" width="1.20" height="1.20" fill="#0038ad"/>
<rect x="163.30" y="297.85" width="1.20" height="1.20" fill="#0038ad"/>
<rect x="164.50" y="297.85" width="1.20" height="1.20" fill="#0038ad"/>
<rect x="164.50" y="299.05" width="1.20" height="1.20" fill="#0038ad"/>
<rect x="165.70" y="297.85" width="1.20" height="1.20" fill="#0038ad"/>
<rect x="165.70" y="299.05" width="1.20" height="1.20" fill="#0038ad"/>
<rect x="166.90" y="297.85" width="1.20" height="1.20" fill="#0038ad"/>
<rect x="166.90" y="299.05" width="1.20" height="1.20" fill="#0038ad"/>
<rect x="180.72" y="293.02" width="1.20" height="1.20" fill="#0038ad"/>
<rect x="180.72" y="294.22" width="1.20" height="1.20" fill="#0dad1a"/>
<rect x="181.92" y="291.82" width="1.20" height="1.20" fill="#0dad1a"/>
<rect x="181.92" y="293.02" width="1.20" height="1.20" fill="#0dad1a"/>
<rect x="181.92" y="294.22" width="1.20" height="1.20" fill="#ade60d"/>
<rect x="181.92" y="295.43" width="1.20" height="1.20" fill="#ade60d"/>
<rect x="181.92" y="296.62" width="1.20" height="1.20" fill="#0038ad"/>
<rect x="183.12" y="291.82" width="1.20" height="1.20" fill="#0dad1a"/>
<rect x="183.12" y="293.02" width="1.20" height="1.20" fill="#ade60d"/>
<rect x="183.12" y="294.22" width="1.20" height="1.20" fill="#ff0000"/>
<rect x="183.12" y="295.43" width="1.20" height="1.20" fill="#ffa500"/>
<rect x="183.12" y="296.62" width="1.20" height="1.20" fill="#0038ad"/>
<rect x="184.32" y="291.82" width="1.20" height="1.20" fill="#0038ad"/>
<rect x="184.32" y="293.02" width="1.20" height="1.20" fill="#0dad1a"/>
<rect x="184.32" y="294.22" width="1.20" height="1.20" fill="#ade60d"/>
<rect x="184.32" y="295.43" width="1.20" height="1.20" fill="#0dad1a"/>
<rect x="184.32" y="296.62" width="1.20" height="1.20" fill="#0dad1a"/>
<rect x="185.53" y="295.43" width="1.20" height="1.20" fill="#0038ad"/>
<rect x="176.14" y="295.64" width="1.20" height="1.20" fill="#0038ad"/>
<rect x="227.05" y="266.77" width="1.20" height="1.20" fill="#0dad1a"/>
<rect x="228.25" y="265.57" width="1.20" height="1.20" fill="#0038ad"/>
<rect x="228.25" y="266.77" width="1.20" height="1.20" fill="#0038ad"/>
<rect x="228.25" y="267.97" width="1.20" height="1.20" fill="#0dad1a"/>
<rect x="229.45" y="265.57" width="1.20" height="1.20" fill="#0dad1a"/>
<rect x="229.45" y="266.77" width="1.20" height="1.20" fill="#ade60d"/>
<rect x="229.45" y="267.97" width="1.20" height="1.20" fill="#0038ad"/>
<rect x="230.65" y="265.57" width="1.20" height="1.20" fill="#0dad1a"/>
<rect x="230.65" y="266.77" width="1.20" height="1.20" fill="#ade60d"/>
<rect x="230.65" y="267.97" width="1.20" height="1.20" fill="#0038ad"/>
<rect x="231.85" y="265.57" width="1.20" height="1.20" fill="#0dad1a"/>
<rect x="231.85" y="266.77" width="1.20" height="1.20" fill="#0dad1a"/>
<rect x="233.05" y="266.77" width="1.20" height="1.20" fill="#0dad1a"/>
<rect x="231.08" y="268.77" width="1.20" height="1.20" fill="#0038ad"/>
<rect x="231.08" y="269.97" width="1.20" height="1.20" fill="#0dad1a"/>
<rect x="231.08" y="271.17" width="1.20" height="1.20" fill="#0038ad"/>
<rect x="232.28" y="268.77" width="1.20" height="1.20" fill="#0038ad"/>
<rect x="232.28" y="269.97" width="1.20" height="1.20" fill="#0dad1a"/>
<rect x="232.28" y="271.17" width="1.20" height="1.20" fill="#0038ad"/>
<rect x="233.48" y="268.77" width="1.20" height="1.20" fill="#0038ad"/>
<rect x="233.48" y="269.97" width="1.20" height="1.20" fill="#0dad1a"/>
<rect x="231.60" y="280.52" width="1.20" height="1.20" fill="#0038ad"/>
<rect x="232.80" y="279.32" width="1.20" height="1.20" fill="#0038ad"/>
<rect x="232.80" y="280.52" width="1.20" height="1.20" fill="#ade60d"/>
<rect x="232.80" y="281.72" width="1.20" height="1.20" fill="#ffa500"/>
<rect x="232.80" y="282.93" width="1.20" height="1.20" fill="#ade60d"/>
<rect x="232.80" y="284.12" width="1.20" height="1.20" fill="#0dad1a"/>
<rect x="234.00" y="279.32" width="1.20" height="1.20" fill="#0038ad"/>
<rect x="234.00" y="280.52" width="1.20" height="1.20" fill="#ade60d"/>
<rect x="234.00" y="281.72" width="1.20" height="1.20" fill="#ffa500"/>
<rect x="234.00" y="282.93" width="1.20" height="1.20" fill="#ade60d"/>
<rect x="234.00" y="284.12" width="1.20" height="1.20" fill="#0dad1a"/>
<rect x="235.20" y="280.52" width="1.20" height="1.20" fill="#0dad1a"/>
<rect x="235.20" y="282.93" width="1.20" height="1.20" fill="#0dad1a"/>
<rect x="217.20" y="296.12" width="1.20" height="1.20" fill="#0038ad"/>
<rect x="217.20" y="297.32" width="1.20" height="1.20" fill="#0038ad"/>
<rect x="217.20" y="298.53" width="1.20" height="1.20" fill="#0dad1a"/>
<rect x="218.40" y="296.12" width="1.20" height="1.20" fill="#0dad1a"/>
<rect x="218.40" y="297.32" width="1.20" height="1.20" fill="#ade60d"/>
<rect x="218.40" y="298.53" width="1.20" height="1.20" fill="#0dad1a"/>
<rect x="218.40" y="299.73" width="1.20" height="1.20" fill="#0038ad"/>
<rect x="219.60" y="294.93" width="1.20" height="1.20" fill="#0038ad"/>
<rect x="219.60" y="296.12" width="1.20" height="1.20" fill="#ade60d"/>
<rect x="219.60" y="297.32" width="1.20" height="1.20" fill="#0dad1a"/>
<rect x="219.60" y="298.53" width="1.20" height="1.20" fill="#0dad1a"/>
<rect x="219.60" y="299.73" width="1.20" height="1.20" fill="#0dad1a"/>
<rect x="220.80" y="296.12" width="1.20" height="1.20" fill="#0dad1a"/>
<rect x="220.80" y="297.32" width="1.20" height="1.20" fill="#0038ad"/>
<rect x="182.72" y="312.75" width="1.20" height="1.20" fill="#0dad1a"/>
<rect x="182.72" y="315.15" width="1.20" height="1.20" fill="#0dad1a"/>
<rect x="182.72" y="316.35" width="1.20" height="1.20" fill="#0038ad"/>
<rect x="183.92" y="311.55" width="1.20" height="1.20" fill="#0038ad"/>
<rect x="183.92" y="312.75" width="1.20" height="1.20" fill="#0dad1a"/>
<rect x="183.92" y="313.95" width="1.20" height="1.20" fill="#ade60d"/>
<rect x="183.92" y="315.15" width="1.20" height="1.20" fill="#ade60d"/>
<rect x="183.92" y="316.35" width="1.20" height="1.20" fill="#0dad1a"/>
<rect x="183.92" y="317.55" width="1.20" height="1.20" fill="#0dad1a"/>
<rect x="185.12" y="311.55" width="1.20" height="1.20" fill="#0dad1a"/>
<rect x="185.12" y="312.75" width="1.20" height="1.20" fill="#ade60d"/>
<rect x="185.12" y="313.95" width="1.20" height="1.20" fill="#ffa500"/>
<rect x="185.12" y="315.15" width="1.20" height="1.20" fill="#ffa500"/>
<rect x="185.12" y="316.35" width="1.20" height="1.20" fill="#ffa500"/>
<rect x="185.12" y="317.55" width="1.20" height="1.20" fill="#0dad1a"/>
<rect x="186.32" y="311.55" width="1.20" height="1.20" fill="#0dad1a"/>
<rect x="186.32" y="312.75" width="1.20" height="1.20" fill="#0dad1a"/>
<rect x="186.32" y="313.95" width="1.20" height="1.20" fill="#ffa500"/>
<rect x="186.32" y="315.15" width="1.20" height="1.20" fill="#ade60d"/>
<rect x="186.32" y="316.35" width="1.20" height="1.20" fill="#0dad1a"/>
<rect x="186.32" y="317.55" width="1.20" height="1.20" fill="#0038ad"/>
<rect x="187.53" y="312.75" width="1.20" height="1.20" fill="#0dad1a"/>
<rect x="187.53" y="313.95" width="1.20" height="1.20" fill="#0dad1a"/>
<rect x="187.53" y="315.15" width="1.20" height="1.20" fill="#0dad1a"/>
<rect x="187.53" y="316.35" width="1.20" height="1.20" fill="#0dad1a"/>
<rect x="193.45" y="320.78" width="1.20" height="1.20" fill="#0038ad"/>
<rect x="193.45" y="321.98" width="1.20" height="1.20" fill="#0dad1a"/>
<rect x="193.45" y="323.18" width="1.20" height="1.20" fill="#0dad1a"/>
<rect x="193.45" y="324.38" width="1.20" height="1.20" fill="#0dad1a"/>
<rect x="193.45" y="325.58" width="1.20" height="1.20" fill="#0038ad"/>
<rect x="194.65" y="319.58" width="1.20" height="1.20" fill="#0038ad"/>
<rect x="194.65" y="321.98" width="1.20" height="1.20" fill="#ade60d"/>
<rect x="194.65" y="323.18" width="1.20" height="1.20" fill="#0dad1a"/>
<rect x="194.65" y="324.38" width="1.20" height="1.20" fill="#0038ad"/>
<rect x="194.65" y="325.58" width="1.20" height="1.20" fill="#0038ad"/>
<rect x="195.85" y="320.78" width="1.20" height="1.20" fill="#0dad1a"/>
<rect x="195.85" y="321.98" width="1.20" height="1.20" fill="#ade60d"/>
<rect x="195.85" y="323.18" width="1.20" height="1.20" fill="#ade60d"/>
<rect x="195.85" y="324.38" width="1.20" height="1.20" fill="#ade60d"/>
<rect x="195.85" y="325.58" width="1.20" height="1.20" fill="#0038ad"/>
<rect x="195.85" y="326.78" width="1.20" height="1.20" fill="#0038ad"/>
<rect x="197.05" y="319.58" width="1.20" height="1.20" fill="#0dad1a"/>
<rect x="197.05" y="320.78" width="1.20" height="1.20" fill="#ade60d"/>
<rect x="197.05" y="321.98" width="1.20" height="1.20" fill="#0dad1a"/>
<rect x="197.05" y="323.18" width="1.20" height="1.20" fill="#ade60d"/>
<rect x="197.05" y="324.38" width="1.20" height="1.20" fill="#ade60d"/>
<rect x="197.05" y="325.58" width="1.20" height="1.20" fill="#ade60d"/>
<rect x="197.05" y="326.78" width="1.20" height="1.20" fill="#0038ad"/>
<rect x="198.25" y="320.78" width="1.20" height="1.20" fill="#0dad1a"/>
<rect x="198.25" y="321.98" width="1.20" height="1.20" fill="#0dad1a"/>
<rect x="198.25" y="323.18" width="1.20" height="1.20" fill="#ade60d"/>
<rect x="198.25" y="324.38" width="1.20" height="1.20" fill="#0dad1a"/>
<rect x="199.45" y="320.78" width="1.20" height="1.20" fill="#0038ad"/>
<rect x="199.45" y="323.18" width="1.20" height="1.20" fill="#0dad1a"/>
<rect x="199.45" y="324.38" width="1.20" height="1.20" fill="#0038ad"/>
<rect x="199.45" y="325.58" width="1.20" height="1.20" fill="#0038ad"/>
<rect x="207.40" y="317.85" width="1.20" height="1.20" fill="#0dad1a"/>
<rect x="207.40" y="319.05" width="1.20" height="1.20" fill="#0dad1a"/>
<rect x="207.40" y="320.25" width="1.20" height="1.20" fill="#0dad1a"/>
<rect x="208.60" y="315.45" width="1.20" height="1.20" fill="#0038ad"/>
<rect x="208.60" y="316.65" width="1.20" height="1.20" fill="#0dad1a"/>
<rect x="208.60" y="317.85" width="1.20" height="1.20" fill="#ffa500"/>
<rect x="208.60" y="319.05" width="1.20" height="1.20" fill="#ade60d"/>
<rect x="208.60" y="320.25" width="1.20" height="1.20" fill="#0dad1a"/>
<rect x="208.60" y="321.45" width="1.20" height="1.20" fill="#0038ad"/>
<rect x="209.80" y="316.65" width="1.20" height="1.20" fill="#ade60d"/>
<rect x="209.80" y="317.85" width="1.20" height="1.20" fill="#ffa500"/>
<rect x="209.80" y="319.05" width="1.20" height="1.20" fill="#ffa500"/>
<rect x="209.80" y="320.25" width="1.20" height="1.20" fill="#0dad1a"/>
<rect x="209.80" y="321.45" width="1.20" height="1.20" fill="#0dad1a"/>
<rect x="211.00" y="316.65" width="1.20" height="1.20" fill="#0dad1a"/>
<rect x="211.00" y="317.85" width="1.20" height="1.20" fill="#ade60d"/>
<rect x="211.00" y="319.05" width="1.20" height="1.20" fill="#0dad1a"/>
<rect x="199.08" y="330.65" width="1.20" height="1.20" fill="#0dad1a"/>
<rect x="200.28" y="329.45" width="1.20" height="1.20" fill="#ade60d"/>
<rect x="200.28" y="330.65" width="1.20" height="1.20" fill="#ade60d"/>
<rect x="201.48" y="329.45" width="1.20" height="1.20" fill="#0038ad"/>
<rect x="201.48" y="330.65" width="1.20" height="1.20" fill="#0038ad"/>
<rect x="187.61" y="321.31" width="1.20" height="1.20" fill="#0038ad"/>
<rect x="242.78" y="333.56" width="1.20" height="1.20" fill="#0038ad"/>
<rect x="243.97" y="332.36" width="1.20" height="1.20" fill="#0038ad"/>
<rect x="243.97" y="333.56" width="1.20" height="1.20" fill="#0038ad"/>
<rect x="245.18" y="332.36" width="1.20" height="1.20" fill="#0038ad"/>
<rect x="245.18" y="333.56" width="1.20" height="1.20" fill="#0038ad"/>
<rect x="248.78" y="333.05" width="1.20" height="1.20" fill="#0038ad"/>
<rect x="248.78" y="334.25" width="1.20" height="1.20" fill="#0dad1a"/>
<rect x="248.78" y="335.45" width="1.20" height="1.20" fill="#0dad1a"/>
<rect x="248.78" y="336.65" width="1.20" height="1.20" fill="#0038ad"/>
<rect x="249.97" y="331.85" width="1.20" height="1.20" fill="#0038ad"/>
<rect x="249.97" y="333.05" width="1.20" height="1.20" fill="#0dad1a"/>
<rect x="249.97" y="334.25" width="1.20" height="1.20" fill="#ade60d"/>
<rect x="249.97" y="335.45" width="1.20" height="1.20" fill="#0dad1a"/>
<rect x="249.97" y="336.65" width="1.20" height="1.20" fill="#0dad1a"/>
<rect x="249.97" y="337.85" width="1.20" height="1.20" fill="#0dad1a"/>
<rect x="251.18" y="333.05" width="1.20" height="1.20" fill="#0038ad"/>
<rect x="251.18" y="334.25" width="1.20" height="1.20" fill="#0dad1a"/>
<rect x="251.18" y="335.45" width="1.20" height="1.20" fill="#0038ad"/>
<rect x="251.18" y="336.65" width="1.20" height="1.20" fill="#0038ad"/>
<rect x="239.05" y="342.30" width="1.20" height="1.20" fill="#0dad1a"/>
<rect x="240.25" y="341.10" width="1.20" height="1.20" fill="#0038ad"/>
<rect x="240.25" y="342.30" width="1.20" height="1.20" fill="#0dad1a"/>
<rect x="240.25" y="343.50" width="1.20" height="1.20" fill="#0dad1a"/>
<rect x="241.45" y="341.10" width="1.20" height="1.20" fill="#ade60d"/>
<rect x="241.45" y="342.30" width="1.20" height="1.20" fill="#ade60d"/>
<rect x="241.45" y="343.50" width="1.20" height="1.20" fill="#ffa500"/>
<rect x="241.45" y="344.70" width="1.20" height="1.20" fill="#0038ad"/>
<rect x="242.65" y="341.10" width="1.20" height="1.20" fill="#ade60d"/>
<rect x="242.65" y="342.30" width="1.20" height="1.20" fill="#ffa500"/>
<rect x="242.65" y="343.50" width="1.20" height="1.20" fill="#ade60d"/>
<rect x="242.65" y="344.70" width="1.20" height="1.20" fill="#0038ad"/>
<rect x="243.85" y="341.10" width="1.20" height="1.20" fill="#0038ad"/>
<rect x="243.85" y="342.30" width="1.20" height="1.20" fill="#0dad1a"/>
<rect x="243.85" y="343.50" width="1.20" height="1.20" fill="#0dad1a"/>
<rect x="243.85" y="344.70" width="1.20" height="1.20" fill="#0038ad"/>
<rect x="245.05" y="342.30" width="1.20" height="1.20" fill="#0dad1a"/>
<rect x="245.05" y="343.50" width="1.20" height="1.20" fill="#0dad1a"/>
<rect x="264.05" y="306.61" width="1.20" height="1.20" fill="#0038ad"/>
<rect x="264.05" y="307.81" width="1.20" height="1.20" fill="#0038ad"/>
<rect x="265.25" y="305.41" width="1.20" height="1.20" fill="#0dad1a"/>
<rect x="265.25" y="306.61" width="1.20" height="1.20" fill="#ade60d"/>
<rect x="265.25" y="307.81" width="1.20" height="1.20" fill="#ade60d"/>
<rect x="265.25" y="309.01" width="1.20" height="1.20" fill="#0038ad"/>
<rect x="266.45" y="305.41" width="1.20" height="1.20" fill="#0dad1a"/>
<rect x="266.45" y="306.61" width="1.20" height="1.20" fill="#ffa500"/>
<rect x="266.45" y="307.81" width="1.20" height="1.20" fill="#ffa500"/>
<rect x="266.45" y="309.01" width="1.20" height="1.20" fill="#0dad1a"/>
<rect x="267.65" y="305.41" width="1.20" height="1.20" fill="#0dad1a"/>
<rect x="267.65" y="306.61" width="1.20" height="1.20" fill="#ade60d"/>
<rect x="267.65" y="307.81" width="1.20" height="1.20" fill="#ade60d"/>
<rect x="267.65" y="309.01" width="1.20" height="1.20" fill="#0038ad"/>
<rect x="268.85" y="305.41" width="1.20" height="1.20" fill="#0dad1a"/>
<rect x="268.85" y="306.61" width="1.20" height="1.20" fill="#ade60d"/>
<rect x="268.85" y="307.81" width="1.20" height="1.20" fill="#0dad1a"/>
<rect x="268.85" y="309.01" width="1.20" height="1.20" fill="#0038ad"/>
<rect x="270.05" y="306.61" width="1.20" height="1.20" fill="#0dad1a"/>
<rect x="270.05" y="307.81" width="1.20" height="1.20" fill="#0dad1a"/>
<rect x="273.68" y="308.69" width="1.20" height="1.20" fill="#0038ad"/>
<rect x="274.88" y="307.49" width="1.20" height="1.20" fill="#0dad1a"/>
<rect x="274.88" y="308.69" width="1.20" height="1.20" fill="#0dad1a"/>
<rect x="276.07" y="308.69" width="1.20" height="1.20" fill="#ade60d"/>
<rect x="276.07" y="309.89" width="1.20" height="1.20" fill="#0dad1a"/>
<rect x="277.28" y="307.49" width="1.20" height="1.20" fill="#0038ad"/>
<rect x="277.28" y="308.69" width="1.20" height="1.20" fill="#ade60d"/>
<rect x="277.28" y="309.89" width="1.20" height="1.20" fill="#0dad1a"/>
<rect x="278.48" y="307.49" width="1.20" height="1.20" fill="#0dad1a"/>
<rect x="278.48" y="308.69" width="1.20" height="1.20" fill="#ade60d"/>
<rect x="278.48" y="309.89" width="1.20" height="1.20" fill="#0dad1a"/>
<rect x="279.68" y="307.49" width="1.20" height="1.20" fill="#0038ad"/>
<rect x="279.68" y="308.69" width="1.20" height="1.20" fill="#0dad1a"/>
<rect x="279.68" y="309.89" width="1.20" height="1.20" fill="#0dad1a"/>
<rect x="285.75" y="336.95" width="1.20" height="1.20" fill="#0dad1a"/>
<rect x="285.75" y="338.15" width="1.20" height="1.20" fill="#0038ad"/>
<rect x="286.95" y="338.15" width="1.20" height="1.20" fill="#0dad1a"/>
<rect x="295.86" y="338.25" width="1.20" height="1.20" fill="#0dad1a"/>
<rect x="295.86" y="339.45" width="1.20" height="1.20" fill="#0038ad"/>
<rect x="297.06" y="338.25" width="1.20" height="1.20" fill="#0dad1a"/>
<rect x="297.06" y="339.45" width="1.20" height="1.20" fill="#0dad1a"/>
<rect x="296.02" y="344.38" width="1.20" height="1.20" fill="#0038ad"/>
<rect x="296.02" y="346.78" width="1.20" height="1.20" fill="#0dad1a"/>
<rect x="296.02" y="347.98" width="1.20" height="1.20" fill="#0dad1a"/>
<rect x="296.02" y="349.18" width="1.20" height="1.20" fill="#0038ad"/>
<rect x="297.22" y="343.18" width="1.20" height="1.20" fill="#0dad1a"/>
<rect x="297.22" y="344.38" width="1.20" height="1.20" fill="#ade60d"/>
<rect x="297.22" y="345.57" width="1.20" height="1.20" fill="#ffa500"/>
<rect x="297.22" y="346.78" width="1.20" height="1.20" fill="#ffa500"/>
<rect x="297.22" y="347.98" width="1.20" height="1.20" fill="#ade60d"/>
<rect x="297.22" y="349.18" width="1.20" height="1.20" fill="#0dad1a"/>
<rect x="298.42" y="343.18" width="1.20" height="1.20" fill="#0dad1a"/>
<rect x="298.42" y="344.38" width="1.20" height="1.20" fill="#ade60d"/>
<rect x="298.42" y="345.57" width="1.20" height="1.20" fill="#ffa500"/>
<rect x="298.42" y="346.78" width="1.20" height="1.20" fill="#ff0000"/>
<rect x="298.42" y="347.98" width="1.20" height="1.20" fill="#ffa500"/>
<rect x="298.42" y="349.18" width="1.20" height="1.20" fill="#ade60d"/>
<rect x="299.62" y="343.18" width="1.20" height="1.20" fill="#0dad1a"/>
<rect x="299.62" y="344.38" width="1.20" height="1.20" fill="#0dad1a"/>
<rect x="299.62" y="345.57" width="1.20" height="1.20" fill="#ade60d"/>
<rect x="299.62" y="346.78" width="1.20" height="1.20" fill="#ade60d"/>
<rect x="299.62" y="347.98" width="1.20" height="1.20" fill="#ade60d"/>
<rect x="299.62" y="349.18" width="1.20" height="1.20" fill="#ade60d"/>
<rect x="299.62" y="350.38" width="1.20" height="1.20" fill="#0038ad"/>
<rect x="300.82" y="344.38" width="1.20" height="1.20" fill="#0dad1a"/>
<rect x="300.82" y="345.57" width="1.20" height="1.20" fill="#0038ad"/>
<rect x="300.82" y="346.78" width="1.20" height="1.20" fill="#ade60d"/>
<rect x="300.82" y="347.98" width="1.20" height="1.20" fill="#0038ad"/>
<rect x="301.75" y="348.85" width="1.20" height="1.20" fill="#6d6dff"/>
<rect x="301.75" y="351.25" width="1.20" height="1.20" fill="#0038ad"/>
<rect x="301.75" y="352.45" width="1.20" height="1.20" fill="#0038ad"/>
<rect x="302.95" y="347.65" width="1.20" height="1.20" fill="#6d6dff"/>
<rect x="302.95" y="348.85" width="1.20" height="1.20" fill="#0038ad"/>
<rect x="302.95" y="350.05" width="1.20" height="1.20" fill="#ade60d"/>
<rect x="302.95" y="351.25" width="1.20" height="1.20" fill="#ade60d"/>
<rect x="302.95" y="352.45" width="1.20" height="1.20" fill="#0dad1a"/>
<rect x="302.95" y="353.65" width="1.20" height="1.20" fill="#0038ad"/>
<rect x="304.15" y="347.65" width="1.20" height="1.20" fill="#0038ad"/>
<rect x="304.15" y="348.85" width="1.20" height="1.20" fill="#ade60d"/>
<rect x="304.15" y="350.05" width="1.20" height="1.20" fill="#ffa500"/>
<rect x="304.15" y="351.25" width="1.20" height="1.20" fill="#ade60d"/>
<rect x="304.15" y="352.45" width="1.20" height="1.20" fill="#ade60d"/>
<rect x="304.15" y="353.65" width="1.20" height="1.20" fill="#0dad1a"/>
<rect x="305.35" y="348.85" width="1.20" height="1.20" fill="#ade60d"/>
<rect x="305.35" y="350.05" width="1.20" height="1.20" fill="#ade60d"/>
<rect x="305.35" y="351.25" width="1.20" height="1.20" fill="#ade60d"/>
<rect x="305.35" y="352.45" width="1.20" height="1.20" fill="#0dad1a"/>
<rect x="305.35" y="353.65" width="1.20" height="1.20" fill="#0038ad"/>
<rect x="306.55" y="347.65" width="1.20" height="1.20" fill="#0038ad"/>
<rect x="306.55" y="348.85" width="1.20" height="1.20" fill="#0038ad"/>
<rect x="306.55" y="350.05" width="1.20" height="1.20" fill="#0dad1a"/>
<rect x="306.55" y="351.25" width="1.20" height="1.20" fill="#ade60d"/>
<rect x="306.55" y="352.45" width="1.20" height="1.20" fill="#0dad1a"/>
<rect x="306.55" y="353.65" width="1.20" height="1.20" fill="#0038ad"/>
<rect x="307.75" y="350.05" width="1.20" height="1.20" fill="#0dad1a"/>
<rect x="307.75" y="351.25" width="1.20" height="1.20" fill="#0038ad"/>
<rect x="307.75" y="352.45" width="1.20" height="1.20" fill="#0038ad"/>
<rect x="308.57" y="356.38" width="1.20" height="1.20" fill="#0038ad"/>
<rect x="308.57" y="357.57" width="1.20" height="1.20" fill="#0dad1a"/>
<rect x="308.57" y="358.77" width="1.20" height="1.20" fill="#0038ad"/>
<rect x="309.77" y="356.38" width="1.20" height="1.20" fill="#0038ad"/>
<rect x="309.77" y="357.57" width="1.20" height="1.20" fill="#ffa500"/>
<rect x="309.77" y="358.77" width="1.20" height="1.20" fill="#0dad1a"/>
<rect x="310.97" y="356.38" width="1.20" height="1.20" fill="#0038ad"/>
<rect x="310.97" y="357.57" width="1.20" height="1.20" fill="#0dad1a"/>
<rect x="310.97" y="358.77" width="1.20" height="1.20" fill="#0038ad"/>
<rect x="310.93" y="361.35" width="1.20" height="1.20" fill="#0dad1a"/>
<rect x="310.93" y="362.55" width="1.20" height="1.20" fill="#0038ad"/>
<rect x="310.93" y="363.75" width="1.20" height="1.20" fill="#0038ad"/>
<rect x="310.93" y="364.95" width="1.20" height="1.20" fill="#0038ad"/>
<rect x="312.12" y="360.15" width="1.20" height="1.20" fill="#0038ad"/>
<rect x="312.12" y="361.35" width="1.20" height="1.20" fill="#0038ad"/>
<rect x="312.12" y="362.55" width="1.20" height="1.20" fill="#0dad1a"/>
<rect x="312.12" y="363.75" width="1.20" height="1.20" fill="#ade60d"/>
<rect x="312.12" y="364.95" width="1.20" height="1.20" fill="#0dad1a"/>
<rect x="312.12" y="366.15" width="1.20" height="1.20" fill="#0dad1a"/>
<rect x="313.32" y="360.15" width="1.20" height="1.20" fill="#0038ad"/>
<rect x="313.32" y="361.35" width="1.20" height="1.20" fill="#0dad1a"/>
<rect x="313.32" y="362.55" width="1.20" height="1.20" fill="#ade60d"/>
<rect x="313.32" y="363.75" width="1.20" height="1.20" fill="#ade60d"/>
<rect x="313.32" y="364.95" width="1.20" height="1.20" fill="#0038ad"/>
<rect x="313.32" y="366.15" width="1.20" height="1.20" fill="#0dad1a"/>
<rect x="314.53" y="361.35" width="1.20" height="1.20" fill="#0038ad"/>
<rect x="314.53" y="362.55" width="1.20" height="1.20" fill="#0038ad"/>
<rect x="314.53" y="363.75" width="1.20" height="1.20" fill="#0dad1a"/>
<rect x="314.53" y="364.95" width="1.20" height="1.20" fill="#0dad1a"/>
<rect x="314.53" y="366.15" width="1.20" height="1.20" fill="#0038ad"/>
<rect x="315.73" y="361.35" width="1.20" height="1.20" fill="#0dad1a"/>
<rect x="315.73" y="362.55" width="1.20" height="1.20" fill="#0dad1a"/>
<rect x="315.73" y="363.75" width="1.20" height="1.20" fill="#0dad1a"/>
<rect x="315.73" y="364.95" width="1.20" height="1.20" fill="#0038ad"/>
<rect x="315.98" y="369.20" width="1.20" height="1.20" fill="#0038ad"/>
<rect x="315.98" y="370.40" width="1.20" height="1.20" fill="#0dad1a"/>
<rect x="315.98" y="372.80" width="1.20" height="1.20" fill="#0038ad"/>
<rect x="317.18" y="366.80" width="1.20" height="1.20" fill="#0dad1a"/>
<rect x="317.18" y="368.00" width="1.20" height="1.20" fill="#0038ad"/>
<rect x="317.18" y="369.20" width="1.20" height="1.20" fill="#ade60d"/>
<rect x="317.18" y="370.40" width="1.20" height="1.20" fill="#ade60d"/>
<rect x="317.18" y="371.60" width="1.20" height="1.20" fill="#0dad1a"/>
<rect x="317.18" y="372.80" width="1.20" height="1.20" fill="#0dad1a"/>
<rect x="317.18" y="374.00" width="1.20" height="1.20" fill="#0dad1a"/>
<rect x="317.18" y="375.20" width="1.20" height="1.20" fill="#0038ad"/>
<rect x="318.38" y="368.00" width="1.20" height="1.20" fill="#0dad1a"/>
<rect x="318.38" y="369.20" width="1.20" height="1.20" fill="#0dad1a"/>
<rect x="318.38" y="370.40" width="1.20" height="1.20" fill="#ade60d"/>
<rect x="318.38" y="371.60" width="1.20" height="1.20" fill="#ffa500"/>
<rect x="318.38" y="372.80" width="1.20" height="1.20" fill="#ade60d"/>
<rect x="318.38" y="374.00" width="1.20" height="1.20" fill="#ade60d"/>
<rect x="319.58" y="366.80" width="1.20" height="1.20" fill="#0038ad"/>
<rect x="319.58" y="368.00" width="1.20" height="1.20" fill="#ade60d"/>
<rect x="319.58" y="369.20" width="1.20" height="1.20" fill="#ffa500"/>
<rect x="319.58" y="370.40" width="1.20" height="1.20" fill="#ffa500"/>
<rect x="319.58" y="371.60" width="1.20" height="1.20" fill="#ffa500"/>
<rect x="319.58" y="372.80" width="1.20" height="1.20" fill="#ade60d"/>
<rect x="319.58" y="374.00" width="1.20" height="1.20" fill="#ade60d"/>
<rect x="320.78" y="368.00" width="1.20" height="1.20" fill="#ade60d"/>
<rect x="320.78" y="369.20" width="1.20" height="1.20" fill="#ade60d"/>
<rect x="320.78" y="370.40" width="1.20" height="1.20" fill="#ff0000"/>
<rect x="320.78" y="371.60" width="1.20" height="1.20" fill="#ade60d"/>
<rect x="320.78" y="372.80" width="1.20" height="1.20" fill="#ffa500"/>
<rect x="320.78" y="374.00" width="1.20" height="1.20" fill="#0dad1a"/>
<rect x="320.78" y="375.20" width="1.20" height="1.20" fill="#0038ad"/>
<rect x="321.98" y="368.00" width="1.20" height="1.20" fill="#0038ad"/>
<rect x="321.98" y="369.20" width="1.20" height="1.20" fill="#ade60d"/>
<rect x="321.98" y="370.40" width="1.20" height="1.20" fill="#ade60d"/>
<rect x="321.98" y="371.60" width="1.20" height="1.20" fill="#ade60d"/>
<rect x="321.98" y="372.80" width="1.20" height="1.20" fill="#0dad1a"/>
<rect x="321.98" y="374.00" width="1.20" height="1.20" fill="#0dad1a"/>
<rect x="321.98" y="375.20" width="1.20" height="1.20" fill="#0038ad"/>
<rect x="323.18" y="369.20" width="1.20" height="1.20" fill="#0038ad"/>
<rect x="323.18" y="371.60" width="1.20" height="1.20" fill="#0038ad"/>
<rect x="319.95" y="377.30" width="1.20" height="1.20" fill="#0038ad"/>
<rect x="319.95" y="378.50" width="1.20" height="1.20" fill="#0038ad"/>
<rect x="321.15" y="377.30" width="1.20" height="1.20" fill="#0dad1a"/>
<rect x="321.15" y="378.50" width="1.20" height="1.20" fill="#0dad1a"/>
<rect x="321.15" y="379.70" width="1.20" height="1.20" fill="#0038ad"/>
<rect x="322.35" y="376.10" width="1.20" height="1.20" fill="#0038ad"/>
<rect x="322.35" y="377.30" width="1.20" height="1.20" fill="#0dad1a"/>
<rect x="322.35" y="378.50" width="1.20" height="1.20" fill="#ade60d"/>
<rect x="322.35" y="379.70" width="1.20" height="1.20" fill="#0dad1a"/>
<rect x="323.55" y="376.10" width="1.20" height="1.20" fill="#0038ad"/>
<rect x="323.55" y="377.30" width="1.20" height="1.20" fill="#ade60d"/>
<rect x="323.55" y="378.50" width="1.20" height="1.20" fill="#ade60d"/>
<rect x="323.55" y="379.70" width="1.20" height="1.20" fill="#0dad1a"/>
<rect x="324.75" y="376.10" width="1.20" height="1.20" fill="#6d6dff"/>
<rect x="324.75" y="377.30" width="1.20" height="1.20" fill="#ade60d"/>
<rect x="324.75" y="378.50" width="1.20" height="1.20" fill="#0dad1a"/>
<rect x="324.75" y="379.70" width="1.20" height="1.20" fill="#0038ad"/>
<rect x="325.95" y="377.30" width="1.20" height="1.20" fill="#0dad1a"/>
<rect x="325.95" y="378.50" width="1.20" height="1.20" fill="#0038ad"/>
<rect x="290.00" y="371.75" width="1.20" height="1.20" fill="#0dad1a"/>
<rect x="290.00" y="372.95" width="1.20" height="1.20" fill="#0dad1a"/>
<rect x="290.00" y="374.15" width="1.20" height="1.20" fill="#ade60d"/>
<rect x="291.20" y="370.55" width="1.20" height="1.20" fill="#0038ad"/>
<rect x="291.20" y="371.75" width="1.20" height="1.20" fill="#ade60d"/>
<rect x="291.20" y="372.95" width="1.20" height="1.20" fill="#ffa500"/>
<rect x="291.20" y="374.15" width="1.20" height="1.20" fill="#ffa500"/>
<rect x="291.20" y="375.35" width="1.20" height="1.20" fill="#0dad1a"/>
<rect x="291.20" y="376.55" width="1.20" height="1.20" fill="#0dad1a"/>
<rect x="292.40" y="370.55" width="1.20" height="1.20" fill="#0dad1a"/>
<rect x="292.40" y="371.75" width="1.20" height="1.20" fill="#ade60d"/>
<rect x="292.40" y="372.95" width="1.20" height="1.20" fill="#ffa500"/>
<rect x="292.40" y="374.15" width="1.20" height="1.20" fill="#ffa500"/>
<rect x="292.40" y="375.35" width="1.20" height="1.20" fill="#ade60d"/>
<rect x="292.40" y="376.55" width="1.20" height="1.20" fill="#0dad1a"/>
<rect x="293.60" y="371.75" width="1.20" height="1.20" fill="#0038ad"/>
<rect x="293.60" y="372.95" width="1.20" height="1.20" fill="#0dad1a"/>
<rect x="293.60" y="374.15" width="1.20" height="1.20" fill="#0dad1a"/>
<rect x="293.60" y="375.35" width="1.20" height="1.20" fill="#0038ad"/>
<rect x="289.71" y="376.68" width="1.20" height="1.20" fill="#0038ad"/>
<rect x="289.71" y="377.88" width="1.20" height="1.20" fill="#0038ad"/>
<rect x="289.71" y="379.08" width="1.20" height="1.20" fill="#0dad1a"/>
<rect x="289.71" y="381.48" width="1.20" height="1.20" fill="#0dad1a"/>
<rect x="290.91" y="375.48" width="1.20" height="1.20" fill="#0038ad"/>
<rect x="290.91" y="376.68" width="1.20" height="1.20" fill="#ade60d"/>
<rect x="290.91" y="377.88" width="1.20" height="1.20" fill="#ffa500"/>
<rect x="290.91" y="379.08" width="1.20" height="1.20" fill="#ffa500"/>
<rect x="290.91" y="380.28" width="1.20" height="1.20" fill="#ffa500"/>
<rect x="290.91" y="381.48" width="1.20" height="1.20" fill="#ade60d"/>
<rect x="292.11" y="375.48" width="1.20" height="1.20" fill="#0038ad"/>
<rect x="292.11" y="376.68" width="1.20" height="1.20" fill="#0dad1a"/>
<rect x="292.11" y="377.88" width="1.20" height="1.20" fill="#ffa500"/>
<rect x="292.11" y="379.08" width="1.20" height="1.20" fill="#ffa500"/>
<rect x="292.11" y="380.28" width="1.20" height="1.20" fill="#ffa500"/>
<rect x="292.11" y="381.48" width="1.20" height="1.20" fill="#0dad1a"/>
<rect x="292.11" y="382.68" width="1.20" height="1.20" fill="#0038ad"/>
<rect x="293.31" y="377.88" width="1.20" height="1.20" fill="#0dad1a"/>
<rect x="293.31" y="379.08" width="1.20" height="1.20" fill="#0dad1a"/>
<rect x="293.31" y="380.28" width="1.20" height="1.20" fill="#0dad1a"/>
<rect x="290.00" y="383.32" width="1.20" height="1.20" fill="#0dad1a"/>
<rect x="290.00" y="384.52" width="1.20" height="1.20" fill="#0dad1a"/>
<rect x="290.00" y="385.73" width="1.20" height="1.20" fill="#0038ad"/>
<rect x="291.20" y="382.12" width="1.20" height="1.20" fill="#0038ad"/>
<rect x="291.20" y="383.32" width="1.20" height="1.20" fill="#ade60d"/>
<rect x="291.20" y="384.52" width="1.20" height="1.20" fill="#ffa500"/>
<rect x="291.20" y="385.73" width="1.20" height="1.20" fill="#ade60d"/>
<rect x="292.40" y="383.32" width="1.20" height="1.20" fill="#0dad1a"/>
<rect x="292.40" y="384.52" width="1.20" height="1.20" fill="#ade60d"/>
<rect x="292.40" y="385.73" width="1.20" height="1.20" fill="#ade60d"/>
<rect x="292.40" y="386.93" width="1.20" height="1.20" fill="#0dad1a"/>
<rect x="293.60" y="383.32" width="1.20" height="1.20" fill="#0dad1a"/>
<rect x="293.60" y="384.52" width="1.20" height="1.20" fill="#0038ad"/>
<rect x="306.64" y="370.54" width="1.20" height="1.20" fill="#0038ad"/>
<rect x="307.50" y="382.80" width="1.20" height="1.20" fill="#0038ad"/>
<rect x="307.50" y="384.00" width="1.20" height="1.20" fill="#0dad1a"/>
<rect x="308.70" y="381.60" width="1.20" height="1.20" fill="#0dad1a"/>
<rect x="308.70" y="382.80" width="1.20" height="1.20" fill="#ade60d"/>
<rect x="308.70" y="384.00" width="1.20" height="1.20" fill="#ade60d"/>
<rect x="308.70" y="385.20" width="1.20" height="1.20" fill="#0dad1a"/>
<rect x="309.90" y="382.80" width="1.20" height="1.20" fill="#ade60d"/>
<rect x="309.90" y="384.00" width="1.20" height="1.20" fill="#ade60d"/>
<rect x="309.90" y="385.20" width="1.20" height="1.20" fill="#0dad1a"/>
<rect x="311.10" y="384.00" width="1.20" height="1.20" fill="#0dad1a"/>
<rect x="318.57" y="385.77" width="1.20" height="1.20" fill="#0038ad"/>
<rect x="318.57" y="386.97" width="1.20" height="1.20" fill="#0038ad"/>
<rect x="318.57" y="388.17" width="1.20" height="1.20" fill="#0038ad"/>
<rect x="319.77" y="385.77" width="1.20" height="1.20" fill="#0dad1a"/>
<rect x="319.77" y="386.97" width="1.20" height="1.20" fill="#ade60d"/>
<rect x="319.77" y="388.17" width="1.20" height="1.20" fill="#0038ad"/>
<rect x="320.97" y="385.77" width="1.20" height="1.20" fill="#0038ad"/>
<rect x="320.97" y="386.97" width="1.20" height="1.20" fill="#0038ad"/>
<rect x="320.97" y="388.17" width="1.20" height="1.20" fill="#0038ad"/>
<rect x="314.61" y="381.44" width="1.20" height="1.20" fill="#0038ad"/>
<rect x="308.52" y="398.60" width="1.20" height="1.20" fill="#0038ad"/>
<rect x="308.52" y="399.80" width="1.20" height="1.20" fill="#6d6dff"/>
<rect x="309.72" y="395.00" width="1.20" height="1.20" fill="#ffa500"/>
<rect x="309.72" y="396.20" width="1.20" height="1.20" fill="#ffa500"/>
<rect x="309.72" y="397.40" width="1.20" height="1.20" fill="#ffa500"/>
<rect x="309.72" y="398.60" width="1.20" height="1.20" fill="#ade60d"/>
<rect x="309.72" y="399.80" width="1.20" height="1.20" fill="#0dad1a"/>
<rect x="309.72" y="401.00" width="1.20" height="1.20" fill="#0038ad"/>
<rect x="310.92" y="392.60" width="1.20" height="1.20" fill="#0038ad"/>
<rect x="310.92" y="393.80" width="1.20" height="1.20" fill="#0dad1a"/>
<rect x="310.92" y="395.00" width="1.20" height="1.20" fill="#ffa500"/>
<rect x="310.92" y="396.20" width="1.20" height="1.20" fill="#ff0000"/>
<rect x="310.92" y="397.40" width="1.20" height="1.20" fill="#ffa500"/>
<rect x="310.92" y="398.60" width="1.20" height="1.20" fill="#ffa500"/>
<rect x="310.92" y="399.80" width="1.20" height="1.20" fill="#0dad1a"/>
<rect x="312.12" y="392.60" width="1.20" height="1.20" fill="#0038ad"/>
<rect x="312.12" y="395.00" width="1.20" height="1.20" fill="#ade60d"/>
<rect x="312.12" y="396.20" width="1.20" height="1.20" fill="#ade60d"/>
<rect x="312.12" y="397.40" width="1.20" height="1.20" fill="#ffa500"/>
<rect x="312.12" y="398.60" width="1.20" height="1.20" fill="#0dad1a"/>
<rect x="312.12" y="401.00" width="1.20" height="1.20" fill="#0dad1a"/>
<rect x="313.32" y="395.00" width="1.20" height="1.20" fill="#0038ad"/>
<rect x="313.32" y="396.20" width="1.20" height="1.20" fill="#0dad1a"/>
<rect x="313.32" y="397.40" width="1.20" height="1.20" fill="#ade60d"/>
<rect x="313.32" y="398.60" width="1.20" height="1.20" fill="#0038ad"/>
<rect x="313.80" y="392.43" width="1.20" height="1.20" fill="#0dad1a"/>
<rect x="313.80" y="394.83" width="1.20" height="1.20" fill="#0dad1a"/>
<rect x="315.00" y="392.43" width="1.20" height="1.20" fill="#ffa500"/>
<rect x="315.00" y="393.62" width="1.20" height="1.20" fill="#ffa500"/>
<rect x="315.00" y="394.83" width="1.20" height="1.20" fill="#ade60d"/>
<rect x="315.00" y="396.03" width="1.20" height="1.20" fill="#0dad1a"/>
<rect x="316.20" y="391.23" width="1.20" height="1.20" fill="#0038ad"/>
<rect x="316.20" y="392.43" width="1.20" height="1.20" fill="#ade60d"/>
<rect x="316.20" y="393.62" width="1.20" height="1.20" fill="#ffa500"/>
<rect x="316.20" y="394.83" width="1.20" height="1.20" fill="#ffa500"/>
<rect x="317.40" y="393.62" width="1.20" height="1.20" fill="#0dad1a"/>
<rect x="317.40" y="394.83" width="1.20" height="1.20" fill="#0038ad"/>
<rect x="306.07" y="403.55" width="1.20" height="1.20" fill="#0dad1a"/>
<rect x="306.07" y="404.75" width="1.20" height="1.20" fill="#ade60d"/>
<rect x="306.07" y="405.95" width="1.20" height="1.20" fill="#0dad1a"/>
<rect x="307.27" y="402.35" width="1.20" height="1.20" fill="#0dad1a"/>
<rect x="307.27" y="403.55" width="1.20" height="1.20" fill="#ade60d"/>
<rect x="307.27" y="404.75" width="1.20" height="1.20" fill="#ade60d"/>
<rect x="307.27" y="405.95" width="1.20" height="1.20" fill="#ffa500"/>
<rect x="307.27" y="407.15" width="1.20" height="1.20" fill="#0dad1a"/>
<rect x="307.27" y="408.35" width="1.20" height="1.20" fill="#0dad1a"/>
<rect x="308.47" y="404.75" width="1.20" height="1.20" fill="#ade60d"/>
<rect x="308.47" y="405.95" width="1.20" height="1.20" fill="#0dad1a"/>
<rect x="308.47" y="407.15" width="1.20" height="1.20" fill="#0dad1a"/>
<rect x="315.45" y="401.15" width="1.20" height="1.20" fill="#0038ad"/>
<rect x="316.65" y="401.15" width="1.20" height="1.20" fill="#0038ad"/>
<rect x="330.85" y="399.95" width="1.20" height="1.20" fill="#0038ad"/>
<rect x="330.85" y="401.15" width="1.20" height="1.20" fill="#0038ad"/>
<rect x="330.85" y="402.35" width="1.20" height="1.20" fill="#0038ad"/>
<rect x="330.85" y="403.55" width="1.20" height="1.20" fill="#0038ad"/>
<rect x="332.05" y="398.75" width="1.20" height="1.20" fill="#0038ad"/>
<rect x="332.05" y="399.95" width="1.20" height="1.20" fill="#0038ad"/>
<rect x="332.05" y="401.15" width="1.20" height="1.20" fill="#0038ad"/>
<rect x="332.05" y="402.35" width="1.20" height="1.20" fill="#0038ad"/>
<rect x="335.20" y="424.95" width="1.20" height="1.20" fill="#0038ad"/>
<rect x="335.20" y="428.55" width="1.20" height="1.20" fill="#0038ad"/>
<rect x="336.40" y="423.75" width="1.20" height="1.20" fill="#0dad1a"/>
<rect x="336.40" y="424.95" width="1.20" height="1.20" fill="#ade60d"/>
<rect x="336.40" y="426.15" width="1.20" height="1.20" fill="#ade60d"/>
<rect x="336.40" y="427.35" width="1.20" height="1.20" fill="#ffa500"/>
<rect x="336.40" y="428.55" width="1.20" height="1.20" fill="#ade60d"/>
<rect x="337.60" y="423.75" width="1.20" height="1.20" fill="#0dad1a"/>
<rect x="337.60" y="424.95" width="1.20" height="1.20" fill="#ade60d"/>
<rect x="337.60" y="426.15" width="1.20" height="1.20" fill="#ade60d"/>
<rect x="337.60" y="427.35" width="1.20" height="1.20" fill="#ffa500"/>
<rect x="337.60" y="428.55" width="1.20" height="1.20" fill="#0dad1a"/>
<rect x="337.60" y="429.75" width="1.20" height="1.20" fill="#0dad1a"/>
<rect x="338.80" y="424.95" width="1.20" height="1.20" fill="#0038ad"/>
<rect x="338.80" y="427.35" width="1.20" height="1.20" fill="#ade60d"/>
<rect x="338.80" y="428.55" width="1.20" height="1.20" fill="#0038ad"/>
<rect x="324.85" y="420.14" width="1.20" height="1.20" fill="#ade60d"/>
<rect x="326.05" y="420.14" width="1.20" height="1.20" fill="#0dad1a"/>
<rect x="332.61" y="419.11" width="1.20" height="1.20" fill="#0038ad"/>
<rect x="340.74" y="420.54" width="1.20" height="1.20" fill="#0038ad"/>
<rect x="328.4" y="346.1" width="1.2" height="1.2" fill="#8a8aff"/>
<rect x="352.5" y="353.2" width="1.2" height="1.2" fill="#8a8aff"/>
<rect x="370.44" y="371.05" width="1.20" height="1.20" fill="#0038ad"/>
<rect x="370.44" y="372.25" width="1.20" height="1.20" fill="#0038ad"/>
<rect x="356.34" y="423.05" width="1.20" height="1.20" fill="#0038ad"/>
<rect x="356.34" y="424.25" width="1.20" height="1.20" fill="#0038ad"/>
<rect x="385.43" y="414.40" width="1.20" height="1.20" fill="#0038ad"/>
<rect x="385.43" y="415.60" width="1.20" height="1.20" fill="#0dad1a"/>
<rect x="386.62" y="413.20" width="1.20" height="1.20" fill="#0dad1a"/>
<rect x="386.62" y="414.40" width="1.20" height="1.20" fill="#0038ad"/>
<rect x="386.62" y="415.60" width="1.20" height="1.20" fill="#0dad1a"/>
<rect x="386.62" y="416.80" width="1.20" height="1.20" fill="#0dad1a"/>
<rect x="387.82" y="413.20" width="1.20" height="1.20" fill="#0038ad"/>
<rect x="387.82" y="414.40" width="1.20" height="1.20" fill="#ade60d"/>
<rect x="387.82" y="415.60" width="1.20" height="1.20" fill="#0dad1a"/>
<rect x="389.03" y="413.20" width="1.20" height="1.20" fill="#0038ad"/>
<rect x="389.03" y="414.40" width="1.20" height="1.20" fill="#0038ad"/>
<rect x="389.03" y="415.60" width="1.20" height="1.20" fill="#0dad1a"/>
<rect x="389.03" y="416.80" width="1.20" height="1.20" fill="#0dad1a"/>
<rect x="390.23" y="414.40" width="1.20" height="1.20" fill="#0dad1a"/>
<rect x="390.23" y="415.60" width="1.20" height="1.20" fill="#0dad1a"/>
<rect x="393.21" y="414.62" width="1.20" height="1.20" fill="#0038ad"/>
<rect x="397.17" y="413.30" width="1.20" height="1.20" fill="#0dad1a"/>
<rect x="397.17" y="414.50" width="1.20" height="1.20" fill="#0dad1a"/>
<rect x="397.17" y="415.70" width="1.20" height="1.20" fill="#0038ad"/>
<rect x="398.37" y="412.10" width="1.20" height="1.20" fill="#0dad1a"/>
<rect x="398.37" y="413.30" width="1.20" height="1.20" fill="#ade60d"/>
<rect x="398.37" y="414.50" width="1.20" height="1.20" fill="#0dad1a"/>
<rect x="398.37" y="415.70" width="1.20" height="1.20" fill="#0038ad"/>
<rect x="399.57" y="412.10" width="1.20" height="1.20" fill="#6d6dff"/>
<rect x="399.57" y="413.30" width="1.20" height="1.20" fill="#0dad1a"/>
<rect x="399.57" y="414.50" width="1.20" height="1.20" fill="#0dad1a"/>
<rect x="399.34" y="417.74" width="1.20" height="1.20" fill="#0038ad"/>
<rect x="384.45" y="423.35" width="1.20" height="1.20" fill="#0038ad"/>
<rect x="384.45" y="424.55" width="1.20" height="1.20" fill="#0038ad"/>
<rect x="385.65" y="423.35" width="1.20" height="1.20" fill="#0038ad"/>
<rect x="385.65" y="424.55" width="1.20" height="1.20" fill="#0038ad"/>
<rect x="388.06" y="432.96" width="1.20" height="1.20" fill="#0038ad"/>
<rect x="388.06" y="434.16" width="1.20" height="1.20" fill="#0038ad"/>
<rect x="389.26" y="432.96" width="1.20" height="1.20" fill="#0038ad"/>
<rect x="389.26" y="434.16" width="1.20" height="1.20" fill="#0038ad"/>
<rect x="407.61" y="426.31" width="1.20" height="1.20" fill="#ade60d"/>
<rect x="418.5" y="437.2" width="1.0" height="1.5" fill="#8a8aff"/>
<rect x="370.45" y="453.40" width="1.20" height="1.20" fill="#0038ad"/>
<rect x="370.45" y="454.60" width="1.20" height="1.20" fill="#0038ad"/>
<rect x="371.65" y="453.40" width="1.20" height="1.20" fill="#0dad1a"/>
<rect x="371.65" y="454.60" width="1.20" height="1.20" fill="#ade60d"/>
<rect x="371.65" y="455.80" width="1.20" height="1.20" fill="#0038ad"/>
<rect x="372.85" y="452.20" width="1.20" height="1.20" fill="#0dad1a"/>
<rect x="372.85" y="453.40" width="1.20" height="1.20" fill="#ade60d"/>
<rect x="372.85" y="454.60" width="1.20" height="1.20" fill="#0dad1a"/>
<rect x="374.05" y="452.20" width="1.20" height="1.20" fill="#0038ad"/>
<rect x="374.05" y="453.40" width="1.20" height="1.20" fill="#0dad1a"/>
<rect x="374.05" y="454.60" width="1.20" height="1.20" fill="#0dad1a"/>
<rect x="374.05" y="455.80" width="1.20" height="1.20" fill="#0038ad"/>
<rect x="375.25" y="453.40" width="1.20" height="1.20" fill="#0dad1a"/>
<rect x="375.25" y="454.60" width="1.20" height="1.20" fill="#ade60d"/>
<rect x="376.45" y="453.40" width="1.20" height="1.20" fill="#0038ad"/>
<rect x="376.45" y="454.60" width="1.20" height="1.20" fill="#0dad1a"/>
<rect x="59.0" y="210.3" width="1.0" height="1.2" fill="#8a8aff"/>
<rect x="69.55" y="220.15" width="1.20" height="1.20" fill="#0038ad"/>
<rect x="69.55" y="221.35" width="1.20" height="1.20" fill="#0038ad"/>
</g>
<rect x="127.5" y="209.7" width="32.2" height="22.8" fill="none" stroke="#ff2020" stroke-width="1.1"/>
<g clip-path="url(#ca)">
<path d="M110.9 196.5 L126.6 248.1 L134.7 261.1 L145.3 274.4 L154.7 288.4 L164.1 318.1 L168.0 330.0 L175.8 359.2 L186.7 373.0 L197.7 383.9 L210.9 389.4 L224.7 381.1 L230.2 362.0 L243.3 353.8 L257.5 351.1 L257.5 335.5 L267.8 318.9 L284.2 318.9 L284.2 300.2 L281.6 285.3 L281.6 270.0 L290.2 255.6 L298.0 240.0 L300.3 221.3 L297.2 196.5" fill="none" stroke="#000" stroke-width="1.95" stroke-linejoin="miter"/>
<path d="M289.5 332.3 L308.3 343.3 L330.2 375.3 L338.0 391.7 L349.4 405.5 L349.4 423.8 L344.2 440.6 L330.2 451.6 L311.4 457.0 L298.1 457.0 L289.5 443.3 L281.7 408.1 L281.7 389.4 L286.9 359.2 L295.0 345.6Z" fill="none" stroke="#000" stroke-width="1.95" stroke-linejoin="miter"/>
</g>
<rect x="29.8" y="197.0" width="390.0" height="292.5" fill="none" stroke="#000" stroke-width="0.85"/>
<line x1="29.8" y1="489.5" x2="29.8" y2="479.5" stroke="#000" stroke-width="1.25"/>
<line x1="94.8" y1="489.5" x2="94.8" y2="479.5" stroke="#000" stroke-width="1.25"/>
<line x1="159.8" y1="489.5" x2="159.8" y2="479.5" stroke="#000" stroke-width="1.25"/>
<line x1="224.8" y1="489.5" x2="224.8" y2="479.5" stroke="#000" stroke-width="1.25"/>
<line x1="289.8" y1="489.5" x2="289.8" y2="479.5" stroke="#000" stroke-width="1.25"/>
<line x1="354.8" y1="489.5" x2="354.8" y2="479.5" stroke="#000" stroke-width="1.25"/>
<line x1="419.8" y1="489.5" x2="419.8" y2="479.5" stroke="#000" stroke-width="1.25"/>
<line x1="29.8" y1="197.0" x2="39.8" y2="197.0" stroke="#000" stroke-width="1.25"/>
<line x1="29.8" y1="262.0" x2="39.8" y2="262.0" stroke="#000" stroke-width="1.25"/>
<line x1="29.8" y1="327.0" x2="39.8" y2="327.0" stroke="#000" stroke-width="1.25"/>
<line x1="29.8" y1="392.0" x2="39.8" y2="392.0" stroke="#000" stroke-width="1.25"/>
<line x1="29.8" y1="457.0" x2="39.8" y2="457.0" stroke="#000" stroke-width="1.25"/>
<text x="29.8" y="504.8" font-size="10.40" text-anchor="middle" >72<tspan font-size="10.40" dy="-0.90">°</tspan><tspan dy="0.90" dx="-0.80">E</tspan></text>
<text x="94.8" y="504.8" font-size="10.40" text-anchor="middle" >74<tspan font-size="10.40" dy="-0.90">°</tspan><tspan dy="0.90" dx="-0.80">E</tspan></text>
<text x="159.8" y="504.8" font-size="10.40" text-anchor="middle" >76<tspan font-size="10.40" dy="-0.90">°</tspan><tspan dy="0.90" dx="-0.80">E</tspan></text>
<text x="224.8" y="504.8" font-size="10.40" text-anchor="middle" >78<tspan font-size="10.40" dy="-0.90">°</tspan><tspan dy="0.90" dx="-0.80">E</tspan></text>
<text x="289.8" y="504.8" font-size="10.40" text-anchor="middle" >80<tspan font-size="10.40" dy="-0.90">°</tspan><tspan dy="0.90" dx="-0.80">E</tspan></text>
<text x="354.8" y="504.8" font-size="10.40" text-anchor="middle" >82<tspan font-size="10.40" dy="-0.90">°</tspan><tspan dy="0.90" dx="-0.80">E</tspan></text>
<text x="419.8" y="504.8" font-size="10.40" text-anchor="middle" >84<tspan font-size="10.40" dy="-0.90">°</tspan><tspan dy="0.90" dx="-0.80">E</tspan></text>
<text x="22.8" y="200.6" font-size="10.40" text-anchor="end" >14<tspan font-size="10.40" dy="-0.90">°</tspan><tspan dy="0.90" dx="-0.80">N</tspan></text>
<text x="22.8" y="265.6" font-size="10.40" text-anchor="end" >12<tspan font-size="10.40" dy="-0.90">°</tspan><tspan dy="0.90" dx="-0.80">N</tspan></text>
<text x="22.8" y="330.6" font-size="10.40" text-anchor="end" >10<tspan font-size="10.40" dy="-0.90">°</tspan><tspan dy="0.90" dx="-0.80">N</tspan></text>
<text x="22.8" y="395.6" font-size="10.40" text-anchor="end" >8<tspan font-size="10.40" dy="-0.90">°</tspan><tspan dy="0.90" dx="-0.80">N</tspan></text>
<text x="22.8" y="460.6" font-size="10.40" text-anchor="end" >6<tspan font-size="10.40" dy="-0.90">°</tspan><tspan dy="0.90" dx="-0.80">N</tspan></text>
<rect x="449.6" y="200.5" width="23.4" height="40.6" fill="#ff0000" stroke="#444" stroke-width="0.6"/>
<rect x="449.6" y="241.2" width="23.4" height="40.6" fill="#ffa500" stroke="#444" stroke-width="0.6"/>
<rect x="449.6" y="281.8" width="23.4" height="40.6" fill="#ade60d" stroke="#444" stroke-width="0.6"/>
<rect x="449.6" y="322.4" width="23.4" height="40.6" fill="#0dad1a" stroke="#444" stroke-width="0.6"/>
<rect x="449.6" y="363.1" width="23.4" height="40.6" fill="#0038ad" stroke="#444" stroke-width="0.6"/>
<rect x="449.6" y="403.8" width="23.4" height="40.6" fill="#5757ff" stroke="#444" stroke-width="0.6"/>
<rect x="449.6" y="444.4" width="23.4" height="40.6" fill="#ffffff" stroke="#444" stroke-width="0.6"/>
<line x1="449.6" y1="241.2" x2="473.0" y2="241.2" stroke="#111" stroke-width="0.7"/>
<line x1="449.6" y1="281.8" x2="473.0" y2="281.8" stroke="#111" stroke-width="0.7"/>
<line x1="449.6" y1="322.4" x2="473.0" y2="322.4" stroke="#111" stroke-width="0.7"/>
<line x1="449.6" y1="363.1" x2="473.0" y2="363.1" stroke="#111" stroke-width="0.7"/>
<line x1="449.6" y1="403.8" x2="473.0" y2="403.8" stroke="#111" stroke-width="0.7"/>
<line x1="449.6" y1="444.4" x2="473.0" y2="444.4" stroke="#111" stroke-width="0.7"/>
<text x="485.3" y="245.2" font-size="10.60" text-anchor="middle" >52</text>
<text x="485.3" y="285.8" font-size="10.60" text-anchor="middle" >44</text>
<text x="485.3" y="326.4" font-size="10.60" text-anchor="middle" >40</text>
<text x="485.3" y="367.1" font-size="10.60" text-anchor="middle" >36</text>
<text x="485.3" y="407.8" font-size="10.60" text-anchor="middle" >20</text>
<text x="485.3" y="448.4" font-size="10.60" text-anchor="middle" >17</text>
</g>
<g id="panel-b">
<text x="540.8" y="179.8" font-size="12.60" text-anchor="start" >(b)</text>
<text x="932.5" y="179.8" font-size="12.60" text-anchor="end" >Lightening flash counts</text>
<g clip-path="url(#cb)">
<path d="M627.0 229.5 L657.6 197.5 L685.0 197.5 L687.1 201.8 L702.7 216.9 L715.9 229.5 L704.0 241.0 L688.8 230.3 L686.6 230.3 L671.6 239.4 L656.5 243.7 L645.8 242.6 L636.1 240.3Z" fill="#5757ff" />
<path d="M634.2 229.5 L663.0 197.0 L679.9 197.0 L687.5 212.3 L671.6 227.1 L667.3 233.0 L655.4 240.5 L641.5 236.4Z" fill="#0038ad" />
<path d="M663.5 213.1 L672.1 206.1 L687.5 212.3 L671.6 227.3Z" fill="#5757ff" />
<path d="M670.0 212.0 L675.9 213.1 L671.6 216.9Z" fill="#fff" />
<path d="M642.0 229.5 L655.4 216.3 L666.2 229.5 L655.4 236.7Z" fill="#0dad1a" />
<path d="M650.1 229.2 L655.4 224.2 L660.3 229.2 L655.4 233.0Z" fill="#ade60d" />
<path d="M688.8 214.2 L697.3 218.1 L710.2 229.5 L704.0 235.1 L697.1 228.7Z" fill="#0038ad" />
<path d="M664.0 261.4 L671.3 254.1 L685.5 266.8 L695.2 267.1 L704.3 266.1 L715.9 277.9 L704.9 289.7 L687.1 288.8 L678.0 277.5Z" fill="#5757ff" />
<path d="M688.8 278.3 L703.8 272.2 L710.0 278.1 L704.3 283.7Z" fill="#0038ad" />
<path d="M679.0 341.9 L681.3 338.7 L682.9 329.8 L687.9 323.9 L692.4 327.3 L703.8 330.1 L715.2 327.3 L720.7 323.1 L723.0 327.3 L719.4 332.4 L718.1 353.3 L719.9 372.4 L723.5 375.5 L719.0 379.0 L710.1 380.9 L704.7 382.8 L696.2 372.6 L690.5 363.5Z" fill="#5757ff" />
<path d="M689.2 343.8 L703.8 334.0 L714.0 343.8 L714.0 354.6 L703.8 371.7 L695.5 359.7Z" fill="#0038ad" />
<path d="M700.0 343.8 L703.8 340.6 L707.2 343.8 L706.3 353.3 L704.7 362.0 L702.5 360.9 L700.9 350.8Z" fill="#0dad1a" />
<path d="M773.8 310.8 L785.8 298.8 L797.8 310.8 L785.8 322.8Z" fill="#5757ff" />
<path d="M779.5 310.8 L785.8 304.4 L792.0 310.8 L785.8 317.1Z" fill="#0038ad" />
<path d="M777.0 424.5 L785.8 415.7 L794.5 424.5 L785.8 433.3Z" fill="#5757ff" />
<path d="M779.1 473.2 L785.8 466.4 L792.4 473.2 L785.8 480.1Z" fill="#5757ff" />
<path d="M892.5 473.2 L899.5 465.4 L906.5 473.2 L899.5 481.1Z" fill="#5757ff" />
<path d="M787.8 376.1 L802.3 361.2 L807.3 360.1 L812.0 359.7 L812.0 345.6 L811.2 344.1 L813.6 341.3 L818.0 337.8 L822.8 342.1 L822.8 359.7 L826.9 361.2 L833.9 365.2 L844.1 376.1 L834.5 385.9 L823.4 374.9 L820.6 369.8 L818.8 366.1 L817.1 366.1 L816.7 370.6 L815.9 375.3 L801.5 389.8Z" fill="#5757ff" />
<path d="M790.9 376.1 L801.5 365.3 L811.9 376.1 L801.5 386.4Z" fill="#0038ad" />
<path d="M797.0 376.1 L801.5 371.0 L805.9 376.1 L801.5 380.9Z" fill="#0dad1a" />
<circle cx="834.1" cy="375.9" r="0.9" fill="#0038ad"/>
<path d="M804.0 425.0 L817.8 409.8 L830.9 423.4 L831.7 432.8 L831.7 456.2 L817.7 470.7 L804.0 457.4 L805.2 443.0Z" fill="#5757ff" />
<path d="M808.3 424.6 L817.7 414.1 L827.0 424.6 L817.7 439.5Z" fill="#0038ad" />
<path d="M814.9 424.6 L817.7 421.9 L820.0 424.6 L817.7 428.9Z" fill="#0dad1a" />
<path d="M807.3 456.6 L817.7 441.4 L827.8 456.2 L817.7 467.6Z" fill="#0038ad" />
<path d="M812.8 455.5 L817.7 448.0 L823.1 455.5 L817.7 462.9Z" fill="#0dad1a" />
<path d="M932.5 432.7 L927.4 437.3 L924.7 441.2 L923.1 446.7 L920.0 456.1 L932.5 469.0Z" fill="#5757ff" />
<path d="M932.5 446.7 L926.2 456.5 L932.5 462.5Z" fill="#0038ad" />
<path d="M622.9 196.5 L638.6 248.1 L646.7 261.1 L657.3 274.4 L666.7 288.4 L676.1 318.1 L680.0 330.0 L687.8 359.2 L698.7 373.0 L709.7 383.9 L722.9 389.4 L736.7 381.1 L742.2 362.0 L755.3 353.8 L769.5 351.1 L769.5 335.5 L779.8 318.9 L796.2 318.9 L796.2 300.2 L793.6 285.3 L793.6 270.0 L802.2 255.6 L810.0 240.0 L812.3 221.3 L809.2 196.5" fill="none" stroke="#000" stroke-width="1.75" stroke-linejoin="miter"/>
<path d="M801.5 332.3 L820.3 343.3 L842.2 375.3 L850.0 391.7 L861.4 405.5 L861.4 423.8 L856.2 440.6 L842.2 451.6 L823.4 457.0 L810.1 457.0 L801.5 443.3 L793.7 408.1 L793.7 389.4 L798.9 359.2 L807.0 345.6Z" fill="none" stroke="#000" stroke-width="1.75" stroke-linejoin="miter"/>
</g>
<rect x="541.8" y="197.0" width="390.0" height="292.5" fill="none" stroke="#000" stroke-width="0.85"/>
<line x1="541.8" y1="489.5" x2="541.8" y2="479.5" stroke="#000" stroke-width="1.25"/>
<line x1="606.8" y1="489.5" x2="606.8" y2="479.5" stroke="#000" stroke-width="1.25"/>
<line x1="671.8" y1="489.5" x2="671.8" y2="479.5" stroke="#000" stroke-width="1.25"/>
<line x1="736.8" y1="489.5" x2="736.8" y2="479.5" stroke="#000" stroke-width="1.25"/>
<line x1="801.8" y1="489.5" x2="801.8" y2="479.5" stroke="#000" stroke-width="1.25"/>
<line x1="866.8" y1="489.5" x2="866.8" y2="479.5" stroke="#000" stroke-width="1.25"/>
<line x1="931.8" y1="489.5" x2="931.8" y2="479.5" stroke="#000" stroke-width="1.25"/>
<line x1="541.8" y1="197.0" x2="551.8" y2="197.0" stroke="#000" stroke-width="1.25"/>
<line x1="541.8" y1="262.0" x2="551.8" y2="262.0" stroke="#000" stroke-width="1.25"/>
<line x1="541.8" y1="327.0" x2="551.8" y2="327.0" stroke="#000" stroke-width="1.25"/>
<line x1="541.8" y1="392.0" x2="551.8" y2="392.0" stroke="#000" stroke-width="1.25"/>
<line x1="541.8" y1="457.0" x2="551.8" y2="457.0" stroke="#000" stroke-width="1.25"/>
<text x="541.8" y="504.8" font-size="10.40" text-anchor="middle" >72<tspan font-size="10.40" dy="-0.90">°</tspan><tspan dy="0.90" dx="-0.80">E</tspan></text>
<text x="606.8" y="504.8" font-size="10.40" text-anchor="middle" >74<tspan font-size="10.40" dy="-0.90">°</tspan><tspan dy="0.90" dx="-0.80">E</tspan></text>
<text x="671.8" y="504.8" font-size="10.40" text-anchor="middle" >76<tspan font-size="10.40" dy="-0.90">°</tspan><tspan dy="0.90" dx="-0.80">E</tspan></text>
<text x="736.8" y="504.8" font-size="10.40" text-anchor="middle" >78<tspan font-size="10.40" dy="-0.90">°</tspan><tspan dy="0.90" dx="-0.80">E</tspan></text>
<text x="801.8" y="504.8" font-size="10.40" text-anchor="middle" >80<tspan font-size="10.40" dy="-0.90">°</tspan><tspan dy="0.90" dx="-0.80">E</tspan></text>
<text x="866.8" y="504.8" font-size="10.40" text-anchor="middle" >82<tspan font-size="10.40" dy="-0.90">°</tspan><tspan dy="0.90" dx="-0.80">E</tspan></text>
<text x="931.8" y="504.8" font-size="10.40" text-anchor="middle" >84<tspan font-size="10.40" dy="-0.90">°</tspan><tspan dy="0.90" dx="-0.80">E</tspan></text>
<text x="534.8" y="200.6" font-size="10.40" text-anchor="end" >14<tspan font-size="10.40" dy="-0.90">°</tspan><tspan dy="0.90" dx="-0.80">N</tspan></text>
<text x="534.8" y="265.6" font-size="10.40" text-anchor="end" >12<tspan font-size="10.40" dy="-0.90">°</tspan><tspan dy="0.90" dx="-0.80">N</tspan></text>
<text x="534.8" y="330.6" font-size="10.40" text-anchor="end" >10<tspan font-size="10.40" dy="-0.90">°</tspan><tspan dy="0.90" dx="-0.80">N</tspan></text>
<text x="534.8" y="395.6" font-size="10.40" text-anchor="end" >8<tspan font-size="10.40" dy="-0.90">°</tspan><tspan dy="0.90" dx="-0.80">N</tspan></text>
<text x="534.8" y="460.6" font-size="10.40" text-anchor="end" >6<tspan font-size="10.40" dy="-0.90">°</tspan><tspan dy="0.90" dx="-0.80">N</tspan></text>
<rect x="961.6" y="200.5" width="23.4" height="40.6" fill="#ff0000" stroke="#444" stroke-width="0.6"/>
<rect x="961.6" y="241.2" width="23.4" height="40.6" fill="#ffa500" stroke="#444" stroke-width="0.6"/>
<rect x="961.6" y="281.8" width="23.4" height="40.6" fill="#ade60d" stroke="#444" stroke-width="0.6"/>
<rect x="961.6" y="322.4" width="23.4" height="40.6" fill="#0dad1a" stroke="#444" stroke-width="0.6"/>
<rect x="961.6" y="363.1" width="23.4" height="40.6" fill="#0038ad" stroke="#444" stroke-width="0.6"/>
<rect x="961.6" y="403.8" width="23.4" height="40.6" fill="#5757ff" stroke="#444" stroke-width="0.6"/>
<rect x="961.6" y="444.4" width="23.4" height="40.6" fill="#ffffff" stroke="#444" stroke-width="0.6"/>
<line x1="961.6" y1="241.2" x2="985.0" y2="241.2" stroke="#111" stroke-width="0.7"/>
<line x1="961.6" y1="281.8" x2="985.0" y2="281.8" stroke="#111" stroke-width="0.7"/>
<line x1="961.6" y1="322.4" x2="985.0" y2="322.4" stroke="#111" stroke-width="0.7"/>
<line x1="961.6" y1="363.1" x2="985.0" y2="363.1" stroke="#111" stroke-width="0.7"/>
<line x1="961.6" y1="403.8" x2="985.0" y2="403.8" stroke="#111" stroke-width="0.7"/>
<line x1="961.6" y1="444.4" x2="985.0" y2="444.4" stroke="#111" stroke-width="0.7"/>
<text x="997.3" y="245.2" font-size="10.60" text-anchor="middle" >50</text>
<text x="997.3" y="285.8" font-size="10.60" text-anchor="middle" >40</text>
<text x="997.3" y="326.4" font-size="10.60" text-anchor="middle" >30</text>
<text x="997.3" y="367.1" font-size="10.60" text-anchor="middle" >20</text>
<text x="997.3" y="407.8" font-size="10.60" text-anchor="middle" >10</text>
<text x="997.3" y="448.4" font-size="10.60" text-anchor="middle" >4</text>
</g>
<g id="panel-c">
<text x="28.6" y="528.8" font-size="12.60" text-anchor="start" >(c)</text>
<text x="414.0" y="528.8" font-size="12.60" text-anchor="end" >Large convective echo</text>
<g clip-path="url(#cc)">
<g fill="#ff0000"><circle cx="92.8" cy="544.7" r="1.2"/><circle cx="104.7" cy="549.8" r="1.2"/><circle cx="116.6" cy="554.9" r="1.2"/><circle cx="128.5" cy="560.0" r="1.2"/><circle cx="140.4" cy="565.1" r="1.2"/><circle cx="152.3" cy="570.2" r="1.2"/><circle cx="164.3" cy="575.3" r="1.2"/><circle cx="176.2" cy="580.4" r="1.2"/><circle cx="188.1" cy="585.5" r="1.2"/><circle cx="200.0" cy="590.6" r="1.2"/><circle cx="211.9" cy="595.7" r="1.2"/><circle cx="223.8" cy="600.8" r="1.2"/><circle cx="235.7" cy="605.9" r="1.2"/><circle cx="247.6" cy="611.0" r="1.2"/><circle cx="259.5" cy="616.1" r="1.2"/><circle cx="271.5" cy="621.2" r="1.2"/><circle cx="283.4" cy="626.3" r="1.2"/><circle cx="295.3" cy="631.4" r="1.2"/><circle cx="307.2" cy="636.5" r="1.2"/><circle cx="319.1" cy="641.6" r="1.2"/><circle cx="331.0" cy="646.7" r="1.2"/><circle cx="342.9" cy="651.8" r="1.2"/><circle cx="390.6" cy="672.2" r="1.2"/><circle cx="402.5" cy="677.3" r="1.2"/><circle cx="414.4" cy="682.4" r="1.2"/><circle cx="58.6" cy="544.1" r="1.2"/><circle cx="70.5" cy="549.2" r="1.2"/><circle cx="82.4" cy="554.3" r="1.2"/><circle cx="94.3" cy="559.4" r="1.2"/><circle cx="106.3" cy="564.5" r="1.2"/><circle cx="118.2" cy="569.6" r="1.2"/><circle cx="130.1" cy="574.7" r="1.2"/><circle cx="142.0" cy="579.8" r="1.2"/><circle cx="153.9" cy="584.9" r="1.2"/><circle cx="165.8" cy="590.0" r="1.2"/><circle cx="177.7" cy="595.1" r="1.2"/><circle cx="189.6" cy="600.2" r="1.2"/><circle cx="201.5" cy="605.3" r="1.2"/><circle cx="213.5" cy="610.4" r="1.2"/><circle cx="225.4" cy="615.5" r="1.2"/><circle cx="237.3" cy="620.6" r="1.2"/><circle cx="249.2" cy="625.7" r="1.2"/><circle cx="261.1" cy="630.8" r="1.2"/><circle cx="273.0" cy="635.9" r="1.2"/><circle cx="284.9" cy="641.0" r="1.2"/><circle cx="296.8" cy="646.1" r="1.2"/><circle cx="308.7" cy="651.2" r="1.2"/><circle cx="320.6" cy="656.3" r="1.2"/><circle cx="332.5" cy="661.4" r="1.2"/><circle cx="344.5" cy="666.5" r="1.2"/><circle cx="368.3" cy="676.7" r="1.2"/><circle cx="380.2" cy="681.8" r="1.2"/><circle cx="392.1" cy="686.9" r="1.2"/><circle cx="404.0" cy="692.0" r="1.2"/><circle cx="36.4" cy="548.5" r="1.2"/><circle cx="48.3" cy="553.6" r="1.2"/><circle cx="60.2" cy="558.7" r="1.2"/><circle cx="72.1" cy="563.8" r="1.2"/><circle cx="84.0" cy="568.9" r="1.2"/><circle cx="96.0" cy="574.0" r="1.2"/><circle cx="107.9" cy="579.1" r="1.2"/><circle cx="119.8" cy="584.2" r="1.2"/><circle cx="131.7" cy="589.3" r="1.2"/><circle cx="143.6" cy="594.4" r="1.2"/><circle cx="155.5" cy="599.5" r="1.2"/><circle cx="167.4" cy="604.6" r="1.2"/><circle cx="179.3" cy="609.7" r="1.2"/><circle cx="191.2" cy="614.8" r="1.2"/><circle cx="203.2" cy="619.9" r="1.2"/><circle cx="215.1" cy="625.0" r="1.2"/><circle cx="227.0" cy="630.1" r="1.2"/><circle cx="238.9" cy="635.2" r="1.2"/><circle cx="250.8" cy="640.3" r="1.2"/><circle cx="262.7" cy="645.4" r="1.2"/><circle cx="274.6" cy="650.5" r="1.2"/><circle cx="286.5" cy="655.6" r="1.2"/><circle cx="298.4" cy="660.7" r="1.2"/><circle cx="310.3" cy="665.8" r="1.2"/><circle cx="322.2" cy="670.9" r="1.2"/><circle cx="334.2" cy="676.0" r="1.2"/><circle cx="346.1" cy="681.1" r="1.2"/><circle cx="358.0" cy="686.2" r="1.2"/><circle cx="369.9" cy="691.3" r="1.2"/><circle cx="381.8" cy="696.4" r="1.2"/><circle cx="393.7" cy="701.5" r="1.2"/><circle cx="405.6" cy="706.6" r="1.2"/><circle cx="38.1" cy="563.1" r="1.2"/><circle cx="50.0" cy="568.2" r="1.2"/><circle cx="61.9" cy="573.3" r="1.2"/><circle cx="73.8" cy="578.4" r="1.2"/><circle cx="85.7" cy="583.5" r="1.2"/><circle cx="97.6" cy="588.6" r="1.2"/><circle cx="109.5" cy="593.7" r="1.2"/><circle cx="121.5" cy="598.8" r="1.2"/><circle cx="133.4" cy="603.9" r="1.2"/><circle cx="145.3" cy="609.0" r="1.2"/><circle cx="157.2" cy="614.1" r="1.2"/><circle cx="169.1" cy="619.2" r="1.2"/><circle cx="181.0" cy="624.3" r="1.2"/><circle cx="192.9" cy="629.4" r="1.2"/><circle cx="204.8" cy="634.5" r="1.2"/><circle cx="216.7" cy="639.6" r="1.2"/><circle cx="228.6" cy="644.7" r="1.2"/><circle cx="240.5" cy="649.8" r="1.2"/><circle cx="252.5" cy="654.9" r="1.2"/><circle cx="264.4" cy="660.0" r="1.2"/><circle cx="288.2" cy="670.2" r="1.2"/><circle cx="300.1" cy="675.3" r="1.2"/><circle cx="312.0" cy="680.4" r="1.2"/><circle cx="323.9" cy="685.5" r="1.2"/><circle cx="335.8" cy="690.6" r="1.2"/><circle cx="347.7" cy="695.7" r="1.2"/><circle cx="359.6" cy="700.8" r="1.2"/><circle cx="371.6" cy="705.9" r="1.2"/><circle cx="383.5" cy="711.0" r="1.2"/><circle cx="395.4" cy="716.1" r="1.2"/><circle cx="407.3" cy="721.2" r="1.2"/><circle cx="39.8" cy="577.6" r="1.2"/><circle cx="51.7" cy="582.7" r="1.2"/><circle cx="63.6" cy="587.8" r="1.2"/><circle cx="75.5" cy="592.9" r="1.2"/><circle cx="87.5" cy="598.0" r="1.2"/><circle cx="99.4" cy="603.1" r="1.2"/><circle cx="111.3" cy="608.2" r="1.2"/><circle cx="123.2" cy="613.3" r="1.2"/><circle cx="135.1" cy="618.4" r="1.2"/><circle cx="147.0" cy="623.5" r="1.2"/><circle cx="158.9" cy="628.6" r="1.2"/><circle cx="170.8" cy="633.7" r="1.2"/><circle cx="182.7" cy="638.8" r="1.2"/><circle cx="194.6" cy="643.9" r="1.2"/><circle cx="206.6" cy="649.0" r="1.2"/><circle cx="218.5" cy="654.1" r="1.2"/><circle cx="230.4" cy="659.2" r="1.2"/><circle cx="242.3" cy="664.3" r="1.2"/><circle cx="278.0" cy="679.6" r="1.2"/><circle cx="289.9" cy="684.7" r="1.2"/><circle cx="337.6" cy="705.1" r="1.2"/><circle cx="349.5" cy="710.2" r="1.2"/><circle cx="361.4" cy="715.3" r="1.2"/><circle cx="373.3" cy="720.4" r="1.2"/><circle cx="385.2" cy="725.5" r="1.2"/><circle cx="397.1" cy="730.6" r="1.2"/><circle cx="29.7" cy="587.1" r="1.2"/><circle cx="41.6" cy="592.2" r="1.2"/><circle cx="53.5" cy="597.3" r="1.2"/><circle cx="65.4" cy="602.4" r="1.2"/><circle cx="77.3" cy="607.5" r="1.2"/><circle cx="89.2" cy="612.6" r="1.2"/><circle cx="101.1" cy="617.7" r="1.2"/><circle cx="113.1" cy="622.8" r="1.2"/><circle cx="125.0" cy="627.9" r="1.2"/><circle cx="136.9" cy="633.0" r="1.2"/><circle cx="148.8" cy="638.1" r="1.2"/><circle cx="160.7" cy="643.2" r="1.2"/><circle cx="172.6" cy="648.3" r="1.2"/><circle cx="184.5" cy="653.4" r="1.2"/><circle cx="196.4" cy="658.5" r="1.2"/><circle cx="208.3" cy="663.6" r="1.2"/><circle cx="220.2" cy="668.7" r="1.2"/><circle cx="339.3" cy="719.7" r="1.2"/><circle cx="351.3" cy="724.8" r="1.2"/><circle cx="363.2" cy="729.9" r="1.2"/><circle cx="375.1" cy="735.0" r="1.2"/><circle cx="387.0" cy="740.1" r="1.2"/><circle cx="31.5" cy="601.6" r="1.2"/><circle cx="43.4" cy="606.7" r="1.2"/><circle cx="55.4" cy="611.8" r="1.2"/><circle cx="67.3" cy="616.9" r="1.2"/><circle cx="79.2" cy="622.0" r="1.2"/><circle cx="91.1" cy="627.1" r="1.2"/><circle cx="103.0" cy="632.2" r="1.2"/><circle cx="114.9" cy="637.3" r="1.2"/><circle cx="126.8" cy="642.4" r="1.2"/><circle cx="138.7" cy="647.5" r="1.2"/><circle cx="150.6" cy="652.6" r="1.2"/><circle cx="162.5" cy="657.7" r="1.2"/><circle cx="174.5" cy="662.8" r="1.2"/><circle cx="186.4" cy="667.9" r="1.2"/><circle cx="257.8" cy="698.5" r="1.2"/><circle cx="317.4" cy="724.0" r="1.2"/><circle cx="329.3" cy="729.1" r="1.2"/><circle cx="341.2" cy="734.2" r="1.2"/><circle cx="353.1" cy="739.3" r="1.2"/><circle cx="388.8" cy="754.6" r="1.2"/><circle cx="33.4" cy="616.0" r="1.2"/><circle cx="45.4" cy="621.1" r="1.2"/><circle cx="57.3" cy="626.2" r="1.2"/><circle cx="69.2" cy="631.3" r="1.2"/><circle cx="81.1" cy="636.4" r="1.2"/><circle cx="93.0" cy="641.5" r="1.2"/><circle cx="104.9" cy="646.6" r="1.2"/><circle cx="116.8" cy="651.7" r="1.2"/><circle cx="128.7" cy="656.8" r="1.2"/><circle cx="140.6" cy="661.9" r="1.2"/><circle cx="152.5" cy="667.0" r="1.2"/><circle cx="164.5" cy="672.1" r="1.2"/><circle cx="235.9" cy="702.7" r="1.2"/><circle cx="247.8" cy="707.8" r="1.2"/><circle cx="259.7" cy="712.9" r="1.2"/><circle cx="295.5" cy="728.2" r="1.2"/><circle cx="307.4" cy="733.3" r="1.2"/><circle cx="319.3" cy="738.4" r="1.2"/><circle cx="331.2" cy="743.5" r="1.2"/><circle cx="390.7" cy="769.0" r="1.2"/><circle cx="35.4" cy="630.5" r="1.2"/><circle cx="47.3" cy="635.6" r="1.2"/><circle cx="59.2" cy="640.7" r="1.2"/><circle cx="71.1" cy="645.8" r="1.2"/><circle cx="83.1" cy="650.9" r="1.2"/><circle cx="95.0" cy="656.0" r="1.2"/><circle cx="106.9" cy="661.1" r="1.2"/><circle cx="118.8" cy="666.2" r="1.2"/><circle cx="130.7" cy="671.3" r="1.2"/><circle cx="142.6" cy="676.4" r="1.2"/><circle cx="214.1" cy="707.0" r="1.2"/><circle cx="226.0" cy="712.1" r="1.2"/><circle cx="237.9" cy="717.2" r="1.2"/><circle cx="249.8" cy="722.3" r="1.2"/><circle cx="261.7" cy="727.4" r="1.2"/><circle cx="273.6" cy="732.5" r="1.2"/><circle cx="285.5" cy="737.6" r="1.2"/><circle cx="297.4" cy="742.7" r="1.2"/><circle cx="309.3" cy="747.8" r="1.2"/><circle cx="321.3" cy="752.9" r="1.2"/><circle cx="333.2" cy="758.0" r="1.2"/><circle cx="368.9" cy="773.3" r="1.2"/><circle cx="37.4" cy="644.9" r="1.2"/><circle cx="49.4" cy="650.0" r="1.2"/><circle cx="61.3" cy="655.1" r="1.2"/><circle cx="73.2" cy="660.2" r="1.2"/><circle cx="85.1" cy="665.3" r="1.2"/><circle cx="97.0" cy="670.4" r="1.2"/><circle cx="108.9" cy="675.5" r="1.2"/><circle cx="120.8" cy="680.6" r="1.2"/><circle cx="132.7" cy="685.7" r="1.2"/><circle cx="204.2" cy="716.3" r="1.2"/><circle cx="216.1" cy="721.4" r="1.2"/><circle cx="228.0" cy="726.5" r="1.2"/><circle cx="239.9" cy="731.6" r="1.2"/><circle cx="251.8" cy="736.7" r="1.2"/><circle cx="263.7" cy="741.8" r="1.2"/><circle cx="275.7" cy="746.9" r="1.2"/><circle cx="287.6" cy="752.0" r="1.2"/><circle cx="299.5" cy="757.1" r="1.2"/><circle cx="311.4" cy="762.2" r="1.2"/><circle cx="323.3" cy="767.3" r="1.2"/><circle cx="335.2" cy="772.4" r="1.2"/><circle cx="347.1" cy="777.5" r="1.2"/><circle cx="359.0" cy="782.6" r="1.2"/><circle cx="370.9" cy="787.7" r="1.2"/><circle cx="394.8" cy="797.9" r="1.2"/><circle cx="406.7" cy="803.0" r="1.2"/><circle cx="39.5" cy="659.2" r="1.2"/><circle cx="51.4" cy="664.3" r="1.2"/><circle cx="63.4" cy="669.4" r="1.2"/><circle cx="75.3" cy="674.5" r="1.2"/><circle cx="87.2" cy="679.6" r="1.2"/><circle cx="99.1" cy="684.7" r="1.2"/><circle cx="111.0" cy="689.8" r="1.2"/><circle cx="122.9" cy="694.9" r="1.2"/><circle cx="194.4" cy="725.5" r="1.2"/><circle cx="206.3" cy="730.6" r="1.2"/><circle cx="218.2" cy="735.7" r="1.2"/><circle cx="230.1" cy="740.8" r="1.2"/><circle cx="242.0" cy="745.9" r="1.2"/><circle cx="253.9" cy="751.0" r="1.2"/><circle cx="265.8" cy="756.1" r="1.2"/><circle cx="277.7" cy="761.2" r="1.2"/><circle cx="289.7" cy="766.3" r="1.2"/><circle cx="301.6" cy="771.4" r="1.2"/><circle cx="313.5" cy="776.5" r="1.2"/><circle cx="325.4" cy="781.6" r="1.2"/><circle cx="337.3" cy="786.7" r="1.2"/><circle cx="349.2" cy="791.8" r="1.2"/><circle cx="361.1" cy="796.9" r="1.2"/><circle cx="373.0" cy="802.0" r="1.2"/><circle cx="384.9" cy="807.1" r="1.2"/><circle cx="396.8" cy="812.2" r="1.2"/><circle cx="408.8" cy="817.3" r="1.2"/><circle cx="29.8" cy="668.5" r="1.2"/><circle cx="41.7" cy="673.6" r="1.2"/><circle cx="53.6" cy="678.7" r="1.2"/><circle cx="65.5" cy="683.8" r="1.2"/><circle cx="77.4" cy="688.9" r="1.2"/><circle cx="89.3" cy="694.0" r="1.2"/><circle cx="101.2" cy="699.1" r="1.2"/><circle cx="113.2" cy="704.2" r="1.2"/><circle cx="196.5" cy="739.9" r="1.2"/><circle cx="208.4" cy="745.0" r="1.2"/><circle cx="220.3" cy="750.1" r="1.2"/><circle cx="232.2" cy="755.2" r="1.2"/><circle cx="244.2" cy="760.3" r="1.2"/><circle cx="256.1" cy="765.4" r="1.2"/><circle cx="268.0" cy="770.5" r="1.2"/><circle cx="279.9" cy="775.6" r="1.2"/><circle cx="291.8" cy="780.7" r="1.2"/><circle cx="303.7" cy="785.8" r="1.2"/><circle cx="315.6" cy="790.9" r="1.2"/><circle cx="327.5" cy="796.0" r="1.2"/><circle cx="339.4" cy="801.1" r="1.2"/><circle cx="351.3" cy="806.2" r="1.2"/><circle cx="363.3" cy="811.3" r="1.2"/><circle cx="375.2" cy="816.4" r="1.2"/><circle cx="387.1" cy="821.5" r="1.2"/><circle cx="399.0" cy="826.6" r="1.2"/><circle cx="410.9" cy="831.7" r="1.2"/><circle cx="32.0" cy="682.8" r="1.2"/><circle cx="43.9" cy="687.9" r="1.2"/><circle cx="55.8" cy="693.0" r="1.2"/><circle cx="67.7" cy="698.1" r="1.2"/><circle cx="79.6" cy="703.2" r="1.2"/><circle cx="91.5" cy="708.3" r="1.2"/><circle cx="103.4" cy="713.4" r="1.2"/><circle cx="115.4" cy="718.5" r="1.2"/><circle cx="198.7" cy="754.2" r="1.2"/><circle cx="210.6" cy="759.3" r="1.2"/><circle cx="222.6" cy="764.4" r="1.2"/><circle cx="234.5" cy="769.5" r="1.2"/><circle cx="246.4" cy="774.6" r="1.2"/><circle cx="258.3" cy="779.7" r="1.2"/><circle cx="270.2" cy="784.8" r="1.2"/><circle cx="282.1" cy="789.9" r="1.2"/><circle cx="294.0" cy="795.0" r="1.2"/><circle cx="305.9" cy="800.1" r="1.2"/><circle cx="317.8" cy="805.2" r="1.2"/><circle cx="329.7" cy="810.3" r="1.2"/><circle cx="341.6" cy="815.4" r="1.2"/><circle cx="353.6" cy="820.5" r="1.2"/><circle cx="365.5" cy="825.6" r="1.2"/><circle cx="377.4" cy="830.7" r="1.2"/><circle cx="34.3" cy="697.1" r="1.2"/><circle cx="46.2" cy="702.2" r="1.2"/><circle cx="58.1" cy="707.3" r="1.2"/><circle cx="70.0" cy="712.4" r="1.2"/><circle cx="81.9" cy="717.5" r="1.2"/><circle cx="93.8" cy="722.6" r="1.2"/><circle cx="105.7" cy="727.7" r="1.2"/><circle cx="189.1" cy="763.4" r="1.2"/><circle cx="201.0" cy="768.5" r="1.2"/><circle cx="212.9" cy="773.6" r="1.2"/><circle cx="224.8" cy="778.7" r="1.2"/><circle cx="236.7" cy="783.8" r="1.2"/><circle cx="248.6" cy="788.9" r="1.2"/><circle cx="260.6" cy="794.0" r="1.2"/><circle cx="272.5" cy="799.1" r="1.2"/><circle cx="284.4" cy="804.2" r="1.2"/><circle cx="296.3" cy="809.3" r="1.2"/><circle cx="308.2" cy="814.4" r="1.2"/><circle cx="320.1" cy="819.5" r="1.2"/><circle cx="332.0" cy="824.6" r="1.2"/><circle cx="343.9" cy="829.7" r="1.2"/><circle cx="36.6" cy="711.3" r="1.2"/><circle cx="48.5" cy="716.4" r="1.2"/><circle cx="60.4" cy="721.5" r="1.2"/><circle cx="72.3" cy="726.6" r="1.2"/><circle cx="84.2" cy="731.7" r="1.2"/><circle cx="96.1" cy="736.8" r="1.2"/><circle cx="167.6" cy="767.4" r="1.2"/><circle cx="179.5" cy="772.5" r="1.2"/><circle cx="191.4" cy="777.6" r="1.2"/><circle cx="203.3" cy="782.7" r="1.2"/><circle cx="215.2" cy="787.8" r="1.2"/><circle cx="227.2" cy="792.9" r="1.2"/><circle cx="239.1" cy="798.0" r="1.2"/><circle cx="251.0" cy="803.1" r="1.2"/><circle cx="262.9" cy="808.2" r="1.2"/><circle cx="274.8" cy="813.3" r="1.2"/><circle cx="286.7" cy="818.4" r="1.2"/><circle cx="298.6" cy="823.5" r="1.2"/><circle cx="310.5" cy="828.6" r="1.2"/><circle cx="322.4" cy="833.7" r="1.2"/><circle cx="39.0" cy="725.6" r="1.2"/><circle cx="50.9" cy="730.7" r="1.2"/><circle cx="62.8" cy="735.8" r="1.2"/><circle cx="74.7" cy="740.9" r="1.2"/><circle cx="146.2" cy="771.5" r="1.2"/><circle cx="158.1" cy="776.6" r="1.2"/><circle cx="170.0" cy="781.7" r="1.2"/><circle cx="181.9" cy="786.8" r="1.2"/><circle cx="193.8" cy="791.9" r="1.2"/><circle cx="205.7" cy="797.0" r="1.2"/><circle cx="217.6" cy="802.1" r="1.2"/><circle cx="229.5" cy="807.2" r="1.2"/><circle cx="241.4" cy="812.3" r="1.2"/><circle cx="253.4" cy="817.4" r="1.2"/><circle cx="265.3" cy="822.5" r="1.2"/><circle cx="277.2" cy="827.6" r="1.2"/><circle cx="289.1" cy="832.7" r="1.2"/><circle cx="29.5" cy="734.7" r="1.2"/><circle cx="41.4" cy="739.8" r="1.2"/><circle cx="53.3" cy="744.9" r="1.2"/><circle cx="65.2" cy="750.0" r="1.2"/><circle cx="148.6" cy="785.7" r="1.2"/><circle cx="160.5" cy="790.8" r="1.2"/><circle cx="172.4" cy="795.9" r="1.2"/><circle cx="184.3" cy="801.0" r="1.2"/><circle cx="196.3" cy="806.1" r="1.2"/><circle cx="208.2" cy="811.2" r="1.2"/><circle cx="220.1" cy="816.3" r="1.2"/><circle cx="232.0" cy="821.4" r="1.2"/><circle cx="243.9" cy="826.5" r="1.2"/><circle cx="255.8" cy="831.6" r="1.2"/><circle cx="32.0" cy="748.8" r="1.2"/><circle cx="43.9" cy="753.9" r="1.2"/><circle cx="55.8" cy="759.0" r="1.2"/><circle cx="139.2" cy="794.7" r="1.2"/><circle cx="151.1" cy="799.8" r="1.2"/><circle cx="163.0" cy="804.9" r="1.2"/><circle cx="174.9" cy="810.0" r="1.2"/><circle cx="186.9" cy="815.1" r="1.2"/><circle cx="198.8" cy="820.2" r="1.2"/><circle cx="210.7" cy="825.3" r="1.2"/><circle cx="222.6" cy="830.4" r="1.2"/><circle cx="34.6" cy="763.0" r="1.2"/><circle cx="46.5" cy="768.1" r="1.2"/><circle cx="58.4" cy="773.2" r="1.2"/><circle cx="94.2" cy="788.5" r="1.2"/><circle cx="129.9" cy="803.8" r="1.2"/><circle cx="141.8" cy="808.9" r="1.2"/><circle cx="153.7" cy="814.0" r="1.2"/><circle cx="165.6" cy="819.1" r="1.2"/><circle cx="177.5" cy="824.2" r="1.2"/><circle cx="189.4" cy="829.3" r="1.2"/><circle cx="37.2" cy="777.1" r="1.2"/><circle cx="49.1" cy="782.2" r="1.2"/><circle cx="61.0" cy="787.3" r="1.2"/><circle cx="73.0" cy="792.4" r="1.2"/><circle cx="84.9" cy="797.5" r="1.2"/><circle cx="96.8" cy="802.6" r="1.2"/><circle cx="108.7" cy="807.7" r="1.2"/><circle cx="120.6" cy="812.8" r="1.2"/><circle cx="132.5" cy="817.9" r="1.2"/><circle cx="144.4" cy="823.0" r="1.2"/><circle cx="156.3" cy="828.1" r="1.2"/><circle cx="168.2" cy="833.2" r="1.2"/><circle cx="28.0" cy="786.0" r="1.2"/><circle cx="39.9" cy="791.1" r="1.2"/><circle cx="51.8" cy="796.2" r="1.2"/><circle cx="63.7" cy="801.3" r="1.2"/><circle cx="75.6" cy="806.4" r="1.2"/><circle cx="87.6" cy="811.5" r="1.2"/><circle cx="99.5" cy="816.6" r="1.2"/><circle cx="111.4" cy="821.7" r="1.2"/><circle cx="123.3" cy="826.8" r="1.2"/><circle cx="135.2" cy="831.9" r="1.2"/><circle cx="30.8" cy="800.1" r="1.2"/><circle cx="42.7" cy="805.2" r="1.2"/><circle cx="54.6" cy="810.3" r="1.2"/><circle cx="66.5" cy="815.4" r="1.2"/><circle cx="78.4" cy="820.5" r="1.2"/><circle cx="90.3" cy="825.6" r="1.2"/><circle cx="102.2" cy="830.7" r="1.2"/><circle cx="33.6" cy="814.1" r="1.2"/><circle cx="45.5" cy="819.2" r="1.2"/><circle cx="57.4" cy="824.3" r="1.2"/><circle cx="69.3" cy="829.4" r="1.2"/><circle cx="36.4" cy="828.1" r="1.2"/><circle cx="48.3" cy="833.2" r="1.2"/></g>
<path d="M69.3 763.9 L78.1 755.6 L79.5 753.2 L85.9 747.3 L89.3 747.1 L93.7 748.8 L97.6 750.8 L99.1 751.7 L105.9 744.9 L108.8 742.9 L116.2 735.6 L118.6 733.2 L122.5 729.3 L128.8 722.9 L128.8 722.9 L132.7 718.6 L138.1 715.2 L139.5 714.2 L126.3 708.6 L131.7 703.9 L136.1 700.5 L137.1 698.6 L142.9 692.7 L145.9 689.3 L154.2 682.7 L156.6 682.3 L165.4 686.4 L167.9 687.3 L168.3 685.9 L175.7 678.4 L178.6 678.6 L184.9 681.5 L188.4 683.4 L190.3 682.0 L197.1 674.6 L201.1 674.2 L210.8 679.0 L211.0 679.1 L213.4 679.6 L220.3 683.0 L222.2 683.9 L223.7 682.5 L229.1 676.6 L233.0 674.7 L235.9 675.2 L243.2 678.6 L244.7 679.6 L252.5 671.2 L255.4 670.1 L258.4 670.8 L264.2 673.7 L265.2 674.7 L259.8 680.5 L254.5 685.9 L252.5 687.4 L249.1 690.8 L246.6 692.2 L244.7 692.7 L236.9 688.8 L233.9 687.4 L233.0 688.8 L230.5 691.3 L225.2 696.6 L222.2 696.8 L216.4 694.2 L212.5 692.2 L211.0 693.2 L204.6 699.6 L201.7 702.5 L195.9 708.4 L190.0 712.8 L192.3 710.8 L182.5 719.6 L178.6 724.5 L177.1 725.4 L172.7 729.3 L173.2 730.3 L183.5 734.7 L180.5 738.1 L174.7 743.5 L175.2 745.0 L182.5 748.4 L185.9 750.3 L182.5 753.8 L178.6 757.2 L175.2 757.2 L167.9 753.8 L166.9 752.8 L161.0 758.6 L159.1 760.0 L157.7 760.5 L154.2 761.5 L147.4 758.1 L145.0 756.6 L142.5 757.6 L141.1 760.5 L128.4 773.2 L125.9 776.2 L128.4 777.1 L134.2 779.6 L135.7 781.5 L128.4 788.4 L126.4 789.3 L123.5 793.2 L120.1 797.1 L116.6 797.6 L109.8 794.2 L107.9 792.8 L113.2 787.9 L116.6 784.5 L114.2 784.0 L104.9 780.1 L103.5 778.6 L99.1 777.6 L93.7 774.9 L91.2 774.2 L89.8 776.2 L83.4 782.0 L81.0 782.5 L73.7 779.1 L72.2 777.6 L75.6 774.2 L80.5 769.8 L80.0 768.8Z" fill="#ade60d" />
<clipPath id="cecho"><path d="M69.3 763.9 L78.1 755.6 L79.5 753.2 L85.9 747.3 L89.3 747.1 L93.7 748.8 L97.6 750.8 L99.1 751.7 L105.9 744.9 L108.8 742.9 L116.2 735.6 L118.6 733.2 L122.5 729.3 L128.8 722.9 L128.8 722.9 L132.7 718.6 L138.1 715.2 L139.5 714.2 L126.3 708.6 L131.7 703.9 L136.1 700.5 L137.1 698.6 L142.9 692.7 L145.9 689.3 L154.2 682.7 L156.6 682.3 L165.4 686.4 L167.9 687.3 L168.3 685.9 L175.7 678.4 L178.6 678.6 L184.9 681.5 L188.4 683.4 L190.3 682.0 L197.1 674.6 L201.1 674.2 L210.8 679.0 L211.0 679.1 L213.4 679.6 L220.3 683.0 L222.2 683.9 L223.7 682.5 L229.1 676.6 L233.0 674.7 L235.9 675.2 L243.2 678.6 L244.7 679.6 L252.5 671.2 L255.4 670.1 L258.4 670.8 L264.2 673.7 L265.2 674.7 L259.8 680.5 L254.5 685.9 L252.5 687.4 L249.1 690.8 L246.6 692.2 L244.7 692.7 L236.9 688.8 L233.9 687.4 L233.0 688.8 L230.5 691.3 L225.2 696.6 L222.2 696.8 L216.4 694.2 L212.5 692.2 L211.0 693.2 L204.6 699.6 L201.7 702.5 L195.9 708.4 L190.0 712.8 L192.3 710.8 L182.5 719.6 L178.6 724.5 L177.1 725.4 L172.7 729.3 L173.2 730.3 L183.5 734.7 L180.5 738.1 L174.7 743.5 L175.2 745.0 L182.5 748.4 L185.9 750.3 L182.5 753.8 L178.6 757.2 L175.2 757.2 L167.9 753.8 L166.9 752.8 L161.0 758.6 L159.1 760.0 L157.7 760.5 L154.2 761.5 L147.4 758.1 L145.0 756.6 L142.5 757.6 L141.1 760.5 L128.4 773.2 L125.9 776.2 L128.4 777.1 L134.2 779.6 L135.7 781.5 L128.4 788.4 L126.4 789.3 L123.5 793.2 L120.1 797.1 L116.6 797.6 L109.8 794.2 L107.9 792.8 L113.2 787.9 L116.6 784.5 L114.2 784.0 L104.9 780.1 L103.5 778.6 L99.1 777.6 L93.7 774.9 L91.2 774.2 L89.8 776.2 L83.4 782.0 L81.0 782.5 L73.7 779.1 L72.2 777.6 L75.6 774.2 L80.5 769.8 L80.0 768.8Z"/></clipPath><g clip-path="url(#cecho)">
<path d="M78.6 754.2 L84.9 747.8 L89.3 746.9 L94.7 749.1 L93.2 750.5 L88.3 749.8 L80.0 755.4Z" fill="#0dad1a" />
<path d="M105.9 744.9 L115.7 735.6 L118.6 732.9 L123.0 728.8 L121.0 732.7 L116.6 739.5 L113.2 743.4Z" fill="#0dad1a" />
<path d="M73.7 775.5 L76.1 773.5 L82.3 782.0 L80.7 783.0Z" fill="#0dad1a" />
<path d="M107.4 792.8 L113.2 787.6 L124.9 792.8 L120.7 797.6Z" fill="#0dad1a" />
<path d="M132.1 781.0 L134.2 779.2 L136.2 781.5 L133.7 783.7Z" fill="#0dad1a" />
<path d="M151.3 759.8 L159.1 758.7 L158.1 761.2 L154.2 762.0Z" fill="#0dad1a" />
<path d="M130.3 705.1 L136.1 700.5 L142.9 692.7 L145.9 689.1 L154.2 682.3 L156.9 682.0 L165.9 686.4 L163.0 688.3 L156.1 690.3 L150.3 693.2 L147.3 699.1 L143.4 703.0 L134.6 704.4Z" fill="#0dad1a" />
<path d="M167.7 687.7 L175.7 678.1 L178.4 678.4 L172.7 684.4Z" fill="#0dad1a" />
<path d="M182.0 693.2 L190.3 693.7 L201.1 694.2 L208.4 693.2 L212.3 691.4 L208.4 695.9 L201.1 703.3 L192.3 711.1 L182.5 719.9 L179.1 720.1 L179.6 717.6 L184.5 710.8 L185.4 703.0Z" fill="#0dad1a" />
<path d="M214.7 693.0 L220.0 690.3 L221.6 692.2 L220.0 695.6Z" fill="#0dad1a" />
<path d="M170.6 754.2 L181.0 747.2 L185.2 749.4 L176.2 757.0Z" fill="#0dad1a" />
<path d="M119.0 732.8 L122.4 729.8 L121.0 735.2Z" fill="#0dad1a" />
<path d="M214.9 693.9 L222.2 688.8 L227.1 685.9 L233.0 683.9 L240.8 684.9 L248.6 688.3 L253.0 686.7 L249.1 691.0 L246.6 692.4 L244.7 692.9 L236.9 689.0 L233.9 687.6 L230.5 691.6 L225.2 696.9 L222.2 697.1 L216.4 694.4Z" fill="#0dad1a" />
<path d="M228.3 677.1 L233.0 674.4 L236.1 675.2 L233.0 676.1Z" fill="#0dad1a" />
<path d="M189.5 694.7 L195.9 696.2 L208.4 695.5 L204.6 699.8 L195.9 708.6 L189.5 713.0Z" fill="#0dad1a" />
<path d="M80.7 751.7 L85.9 747.1 L89.3 746.9 L91.4 748.3 L88.3 748.3 L82.5 752.8Z" fill="#0038ad" />
<path d="M71.9 777.6 L74.2 775.5 L76.1 779.8 L73.5 779.3Z" fill="#0038ad" />
<path d="M107.6 793.2 L109.8 791.8 L121.0 796.2 L119.8 797.8 L116.2 798.0Z" fill="#0038ad" />
<path d="M135.8 700.5 L142.9 692.5 L143.6 693.7 L137.6 700.7Z" fill="#0038ad" />
<path d="M175.0 756.9 L184.5 750.3 L186.2 750.6 L178.6 757.7Z" fill="#0038ad" />
<path d="M221.1 696.3 L232.2 689.6 L230.5 691.8 L225.2 697.0Z" fill="#0038ad" />
<path d="M70.1 764.1 L76.6 759.6 L85.4 755.6 L92.2 752.7 L97.6 751.1 L99.1 752.0 L102.0 748.8 L114.7 746.9 L119.6 744.4 L126.4 736.6 L128.4 729.8 L129.8 722.0 L129.3 722.5 L132.7 718.6 L138.1 715.2 L139.5 714.2 L127.0 708.8 L135.6 707.7 L144.4 707.9 L147.8 705.9 L153.2 702.0 L157.1 696.6 L162.0 697.6 L168.8 701.0 L172.7 705.9 L176.2 710.8 L174.7 714.7 L173.2 718.6 L174.7 723.5 L177.1 725.4 L172.7 729.3 L173.2 730.3 L178.6 732.8 L177.6 738.1 L174.2 743.5 L174.7 745.0 L172.7 747.9 L166.9 752.8 L161.0 758.8 L159.1 760.0 L157.7 756.3 L149.8 757.1 L145.9 757.6 L144.0 756.6 L142.5 757.6 L141.1 760.0 L130.3 763.0 L126.4 766.9 L125.9 774.7 L124.5 776.2 L122.5 775.2 L114.7 772.7 L110.8 773.2 L103.9 777.1 L93.7 775.2 L92.2 774.5 L91.2 774.0 L90.3 775.2 L80.5 770.3 L80.0 768.8Z" fill="#ffa500" />
<path d="M106.7 754.7 L115.9 751.1 L116.3 757.1 L110.8 758.8 L107.2 757.8Z" fill="#ade60d" />
<path d="M124.2 776.3 L126.4 777.6 L127.4 788.6 L125.9 788.6Z" fill="#ffa500" />
<path d="M184.0 682.0 L188.4 683.4 L190.3 682.0 L194.7 677.6 L198.1 679.0 L204.0 681.0 L207.4 685.4 L208.4 690.3 L200.1 691.7 L190.3 689.3 L184.9 685.9Z" fill="#ffa500" />
<path d="M189.5 681.0 L194.9 677.6 L200.7 679.6 L206.1 682.0 L208.1 687.9 L208.6 690.8 L199.8 691.8 L195.9 690.8 L189.5 688.8Z" fill="#ffa500" />
<path d="M250.1 681.0 L257.4 682.2 L254.9 683.5 L254.0 684.9Z" fill="#ffa500" />
<path d="M141.0 730.8 L152.2 729.8 L157.1 732.8 L161.5 736.2 L163.0 739.1 L159.1 743.5 L149.3 745.9 L144.4 744.5 L141.0 741.1Z" fill="#ff0000" />
<path d="M138.6 714.7 L142.9 716.2 L142.5 717.1 L138.1 715.9Z" fill="#ff0000" />
</g>
<path d="M270.7 703.0 L275.1 698.3 L279.0 695.4 L282.0 695.2 L289.3 698.3 L291.2 699.3 L293.2 698.3 L297.6 693.4 L300.5 691.0 L303.9 690.7 L312.7 694.4 L324.5 699.8 L322.5 702.7 L314.7 710.0 L306.9 717.9 L303.9 718.0 L295.2 713.9 L293.7 713.0 L289.3 717.4 L283.9 722.2 L282.0 722.2 L272.7 717.9 L276.6 713.9 L281.0 709.6 L282.0 708.6 L279.0 707.1Z" fill="#ade60d" />
<path d="M275.1 698.3 L279.0 695.4 L281.0 695.6 L280.0 706.6 L279.0 707.1 L275.6 705.2Z" fill="#0dad1a" />
<path d="M275.6 714.9 L279.0 711.5 L291.2 714.4 L289.3 717.4 L283.9 722.2 L281.0 721.3Z" fill="#0dad1a" />
<path d="M295.6 695.6 L297.6 693.4 L302.0 693.4 L308.8 694.4 L312.7 694.4 L324.5 699.8 L323.0 702.2 L314.7 698.8 L305.9 696.4 L299.1 696.2Z" fill="#0dad1a" />
<path d="M298.1 715.4 L306.9 714.4 L307.9 715.9 L305.9 717.9 L303.9 718.0Z" fill="#0dad1a" />
<path d="M270.7 703.0 L275.1 698.3 L275.6 705.2Z" fill="#0038ad" />
<path d="M272.7 717.9 L275.6 714.9 L281.0 721.3 L279.5 721.8Z" fill="#0038ad" />
<path d="M297.6 693.4 L300.5 691.0 L303.9 690.7 L312.7 694.4 L308.8 694.4 L302.0 693.4Z" fill="#0038ad" />
<path d="M284.9 705.6 L288.3 698.3 L291.2 699.3 L293.2 698.3 L299.1 701.2 L303.0 703.7 L302.0 704.7 L289.3 705.0Z" fill="#ffa500" />
<path d="M303.0 703.7 L313.7 708.1 L313.2 709.1 L304.4 705.6Z" fill="#ffa500" />
<path d="M345.9 763.1 L352.9 756.1 L356.4 752.2 L361.1 747.9 L363.4 745.9 L366.6 745.2 L375.9 749.8 L372.0 754.1 L365.0 760.8 L358.8 766.6 L355.6 767.4Z" fill="#0dad1a" />
<path d="M361.1 748.3 L363.4 745.9 L366.6 745.2 L375.9 749.8 L372.0 754.1 L369.7 753.8Z" fill="#0038ad" />
<path d="M345.9 763.1 L352.9 756.1 L362.7 762.0 L358.8 766.6 L355.6 767.4Z" fill="#0038ad" />
<path d="M361.9 757.3 L365.8 757.3 L365.0 759.2Z" fill="#ade60d" />
<path d="M399.8 745.2 L407.2 737.3 L413.8 737.0 L413.8 741.2 L406.4 748.3Z" fill="#0038ad" />
<path d="M406.4 748.3 L413.8 741.2 L413.8 746.7 L408.8 749.5Z" fill="#0dad1a" />
<path d="M408.8 749.5 L413.8 746.7 L413.8 753.8 L410.3 751.4Z" fill="#d8ef90" />
<path d="M401.7 759.2 L407.2 753.9 L411.5 763.5 L408.8 762.3Z" fill="#0038ad" />
<path d="M407.2 753.9 L410.3 751.4 L413.8 755.3 L413.8 763.9 L411.5 763.5Z" fill="#0dad1a" />
<path d="M393.5 783.4 L402.5 774.8 L404.8 771.7 L413.8 765.9 L413.8 780.7 L407.2 786.6 L404.8 787.7 L399.4 786.2Z" fill="#ade60d" />
<path d="M404.1 772.5 L413.8 765.5 L413.8 771.7 L405.6 772.5Z" fill="#0dad1a" />
<path d="M408.0 776.4 L413.8 776.0 L413.8 780.7 L410.3 781.9Z" fill="#ffa500" />
<path d="M399.4 786.2 L404.8 786.6 L405.2 787.7Z" fill="#0dad1a" />
<g fill="#fff"><circle cx="313.7" cy="694.9" r="1.15"/><circle cx="256.0" cy="684.0" r="1.15"/><circle cx="291.7" cy="699.3" r="1.15"/><circle cx="303.6" cy="704.4" r="1.15"/><circle cx="410.8" cy="750.3" r="1.15"/><circle cx="200.2" cy="687.4" r="1.15"/><circle cx="366.9" cy="758.8" r="1.15"/><circle cx="178.3" cy="691.7" r="1.15"/><circle cx="190.3" cy="696.8" r="1.15"/><circle cx="202.2" cy="701.9" r="1.15"/><circle cx="144.6" cy="690.8" r="1.15"/><circle cx="156.5" cy="695.9" r="1.15"/><circle cx="168.5" cy="701.0" r="1.15"/><circle cx="180.4" cy="706.1" r="1.15"/><circle cx="146.7" cy="705.1" r="1.15"/><circle cx="158.6" cy="710.2" r="1.15"/><circle cx="170.5" cy="715.3" r="1.15"/><circle cx="148.9" cy="719.5" r="1.15"/><circle cx="160.8" cy="724.6" r="1.15"/><circle cx="172.7" cy="729.7" r="1.15"/><circle cx="139.2" cy="728.7" r="1.15"/><circle cx="151.1" cy="733.8" r="1.15"/><circle cx="163.0" cy="738.9" r="1.15"/><circle cx="129.5" cy="737.9" r="1.15"/><circle cx="141.4" cy="743.0" r="1.15"/><circle cx="153.4" cy="748.1" r="1.15"/><circle cx="165.3" cy="753.2" r="1.15"/><circle cx="120.0" cy="747.0" r="1.15"/><circle cx="131.9" cy="752.1" r="1.15"/><circle cx="110.4" cy="756.2" r="1.15"/><circle cx="122.3" cy="761.3" r="1.15"/><circle cx="134.3" cy="766.4" r="1.15"/><circle cx="89.1" cy="760.2" r="1.15"/><circle cx="101.0" cy="765.3" r="1.15"/><circle cx="112.9" cy="770.4" r="1.15"/><circle cx="124.8" cy="775.5" r="1.15"/></g>
<line x1="45.6" y1="832.3" x2="260.2" y2="629.2" stroke="#000" stroke-width="1.6"/>
</g>
<rect x="29.9" y="545.3" width="383.1" height="287.2" fill="none" stroke="#000" stroke-width="0.85"/>
<line x1="29.9" y1="832.5" x2="29.9" y2="822.5" stroke="#000" stroke-width="1.25"/>
<line x1="106.5" y1="832.5" x2="106.5" y2="822.5" stroke="#000" stroke-width="1.25"/>
<line x1="183.1" y1="832.5" x2="183.1" y2="822.5" stroke="#000" stroke-width="1.25"/>
<line x1="259.7" y1="832.5" x2="259.7" y2="822.5" stroke="#000" stroke-width="1.25"/>
<line x1="336.3" y1="832.5" x2="336.3" y2="822.5" stroke="#000" stroke-width="1.25"/>
<line x1="413.0" y1="832.5" x2="413.0" y2="822.5" stroke="#000" stroke-width="1.25"/>
<line x1="29.9" y1="545.3" x2="39.9" y2="545.3" stroke="#000" stroke-width="1.25"/>
<line x1="29.9" y1="593.2" x2="39.9" y2="593.2" stroke="#000" stroke-width="1.25"/>
<line x1="29.9" y1="641.0" x2="39.9" y2="641.0" stroke="#000" stroke-width="1.25"/>
<line x1="29.9" y1="688.9" x2="39.9" y2="688.9" stroke="#000" stroke-width="1.25"/>
<line x1="29.9" y1="736.8" x2="39.9" y2="736.8" stroke="#000" stroke-width="1.25"/>
<line x1="29.9" y1="784.6" x2="39.9" y2="784.6" stroke="#000" stroke-width="1.25"/>
<line x1="29.9" y1="832.5" x2="39.9" y2="832.5" stroke="#000" stroke-width="1.25"/>
<text x="29.9" y="848.0" font-size="10.40" text-anchor="middle" >75.0<tspan font-size="10.40" dy="-0.90">°</tspan><tspan dy="0.90" dx="-0.80">E</tspan></text>
<text x="106.5" y="848.0" font-size="10.40" text-anchor="middle" >75.2<tspan font-size="10.40" dy="-0.90">°</tspan><tspan dy="0.90" dx="-0.80">E</tspan></text>
<text x="183.1" y="848.0" font-size="10.40" text-anchor="middle" >75.4<tspan font-size="10.40" dy="-0.90">°</tspan><tspan dy="0.90" dx="-0.80">E</tspan></text>
<text x="259.7" y="848.0" font-size="10.40" text-anchor="middle" >75.6<tspan font-size="10.40" dy="-0.90">°</tspan><tspan dy="0.90" dx="-0.80">E</tspan></text>
<text x="336.3" y="848.0" font-size="10.40" text-anchor="middle" >75.8<tspan font-size="10.40" dy="-0.90">°</tspan><tspan dy="0.90" dx="-0.80">E</tspan></text>
<text x="413.0" y="848.0" font-size="10.40" text-anchor="middle" >76.0<tspan font-size="10.40" dy="-0.90">°</tspan><tspan dy="0.90" dx="-0.80">E</tspan></text>
<text x="23.0" y="548.9" font-size="10.40" text-anchor="end" >14.0<tspan font-size="10.40" dy="-0.90">°</tspan><tspan dy="0.90" dx="-0.80">N</tspan></text>
<text x="23.0" y="596.8" font-size="10.40" text-anchor="end" >13.8<tspan font-size="10.40" dy="-0.90">°</tspan><tspan dy="0.90" dx="-0.80">N</tspan></text>
<text x="23.0" y="644.6" font-size="10.40" text-anchor="end" >13.6<tspan font-size="10.40" dy="-0.90">°</tspan><tspan dy="0.90" dx="-0.80">N</tspan></text>
<text x="23.0" y="692.5" font-size="10.40" text-anchor="end" >13.4<tspan font-size="10.40" dy="-0.90">°</tspan><tspan dy="0.90" dx="-0.80">N</tspan></text>
<text x="23.0" y="740.4" font-size="10.40" text-anchor="end" >13.2<tspan font-size="10.40" dy="-0.90">°</tspan><tspan dy="0.90" dx="-0.80">N</tspan></text>
<text x="23.0" y="788.2" font-size="10.40" text-anchor="end" >13.0<tspan font-size="10.40" dy="-0.90">°</tspan><tspan dy="0.90" dx="-0.80">N</tspan></text>
<text x="23.0" y="836.1" font-size="10.40" text-anchor="end" >12.8<tspan font-size="10.40" dy="-0.90">°</tspan><tspan dy="0.90" dx="-0.80">N</tspan></text>
<rect x="442.7" y="548.8" width="22.9" height="40.0" fill="#ff0000" stroke="#444" stroke-width="0.6"/>
<rect x="442.7" y="588.8" width="22.9" height="40.0" fill="#ffa500" stroke="#444" stroke-width="0.6"/>
<rect x="442.7" y="628.7" width="22.9" height="40.0" fill="#ade60d" stroke="#444" stroke-width="0.6"/>
<rect x="442.7" y="668.7" width="22.9" height="40.0" fill="#0dad1a" stroke="#444" stroke-width="0.6"/>
<rect x="442.7" y="708.6" width="22.9" height="40.0" fill="#0038ad" stroke="#444" stroke-width="0.6"/>
<rect x="442.7" y="748.6" width="22.9" height="40.0" fill="#5757ff" stroke="#444" stroke-width="0.6"/>
<rect x="442.7" y="788.6" width="22.9" height="40.0" fill="#ffffff" stroke="#444" stroke-width="0.6"/>
<line x1="442.7" y1="588.8" x2="465.6" y2="588.8" stroke="#111" stroke-width="0.7"/>
<line x1="442.7" y1="628.7" x2="465.6" y2="628.7" stroke="#111" stroke-width="0.7"/>
<line x1="442.7" y1="668.7" x2="465.6" y2="668.7" stroke="#111" stroke-width="0.7"/>
<line x1="442.7" y1="708.6" x2="465.6" y2="708.6" stroke="#111" stroke-width="0.7"/>
<line x1="442.7" y1="748.6" x2="465.6" y2="748.6" stroke="#111" stroke-width="0.7"/>
<line x1="442.7" y1="788.6" x2="465.6" y2="788.6" stroke="#111" stroke-width="0.7"/>
<text x="477.9" y="592.8" font-size="10.60" text-anchor="middle" >52</text>
<text x="477.9" y="632.7" font-size="10.60" text-anchor="middle" >44</text>
<text x="477.9" y="672.7" font-size="10.60" text-anchor="middle" >40</text>
<text x="477.9" y="712.6" font-size="10.60" text-anchor="middle" >36</text>
<text x="477.9" y="752.6" font-size="10.60" text-anchor="middle" >20</text>
<text x="477.9" y="792.6" font-size="10.60" text-anchor="middle" >17</text>
</g>
<g id="panel-d">
<text x="540.9" y="537.3" font-size="12.60" text-anchor="start" >(d)</text>
<text x="914.8" y="539.8" font-size="12.60" text-anchor="end" >Lat = 13.2 <tspan font-size="15.50" dy="0.00">°</tspan><tspan dy="-0.00" dx="-1.10">E</tspan></text>
<text transform="translate(515.2,684.5) rotate(-90)" font-size="12.60" text-anchor="middle">Height (km)</text>
<g clip-path="url(#cd)">
<path d="M709.1 788.7 L709.1 783.9 L706.4 783.9 L709.1 745.6 L711.6 727.2 L709.8 722.4 L711.9 718.3 L712.1 628.4 L712.6 594.2 L713.5 584.6 L715.3 580.8 L731.0 580.2 L739.9 576.4 L740.9 584.6 L741.7 589.4 L745.4 593.5 L742.6 598.3 L742.2 602.4 L746.3 607.2 L747.4 612.0 L752.6 615.8 L749.9 618.8 L751.5 624.3 L752.2 631.1 L753.6 636.6 L753.2 644.8 L754.0 655.7 L757.3 658.7 L757.7 660.5 L764.9 660.5 L765.2 668.0 L759.0 669.4 L764.9 671.0 L770.7 676.9 L777.5 677.3 L781.3 673.5 L779.6 669.4 L785.7 667.3 L795.3 657.1 L802.1 657.1 L807.6 659.8 L806.9 663.9 L810.3 665.3 L814.7 664.6 L815.1 668.7 L821.0 673.5 L818.5 676.2 L821.3 680.3 L821.9 693.7 L819.2 712.8 L815.8 727.2 L819.2 731.3 L815.8 735.4 L820.6 739.5 L813.1 742.9 L807.3 752.5 L808.3 770.2 L803.5 775.7 L802.1 788.7 L776.8 788.7 L776.8 783.9 L764.9 783.9 L764.9 792.8 L759.0 792.8 L759.0 788.7 L745.8 788.7 L745.8 792.8 L739.9 792.8 L739.5 796.9 L734.0 796.9 L734.0 780.1 L721.2 780.1 L721.2 788.7Z" fill="#5757ff" stroke="#111" stroke-width="0.6" stroke-linejoin="round"/>
<path d="M709.1 788.7 L709.1 783.9 L707.5 781.2 L709.8 745.6 L711.9 727.2 L710.8 722.4 L712.3 718.3 L713.2 628.4 L713.5 601.0 L714.3 585.3 L716.0 582.6 L722.8 583.2 L725.8 587.3 L727.2 594.9 L728.7 594.2 L731.0 584.6 L735.1 579.1 L739.5 577.1 L740.6 584.6 L741.4 589.4 L744.7 593.5 L742.2 598.3 L742.0 602.4 L745.8 607.2 L746.9 612.0 L748.8 616.1 L748.1 619.5 L750.8 624.3 L751.8 631.1 L753.2 636.6 L752.8 644.8 L753.6 655.7 L757.0 659.1 L754.9 668.0 L754.3 676.2 L763.8 681.7 L764.9 686.5 L772.0 687.2 L768.6 683.1 L772.0 678.9 L777.5 678.9 L780.9 682.4 L777.5 685.8 L783.0 680.3 L798.0 673.2 L785.7 669.4 L791.2 666.6 L802.1 666.6 L807.6 670.7 L815.1 671.4 L811.7 676.2 L817.2 678.9 L820.6 684.4 L821.0 693.7 L817.8 712.8 L815.1 727.2 L815.8 734.7 L813.7 740.2 L808.9 748.4 L806.2 756.6 L806.2 764.8 L802.8 774.3 L798.0 788.7 L776.8 788.7 L776.8 783.9 L764.9 783.9 L764.9 792.8 L759.0 792.8 L759.0 788.7 L745.8 788.7 L745.8 792.8 L739.9 792.8 L739.5 796.9 L734.0 796.9 L734.0 780.1 L721.2 780.1 L721.2 788.7Z" fill="#0038ad" stroke="#111" stroke-width="0.6" stroke-linejoin="round"/>
<ellipse cx="774.5" cy="682.1" rx="5.4" ry="3" fill="#fff" stroke="#111" stroke-width="0.6" stroke-linejoin="round"/>
<path d="M764.9 783.9 L764.5 775.7 L767.9 763.4 L770.7 760.0 L773.1 763.4 L775.5 770.2 L777.5 775.7 L776.8 783.9Z" fill="#5757ff" stroke="#111" stroke-width="0.6" stroke-linejoin="round"/>
<path d="M765.9 774.7 L770.9 768.9 L776.4 774.7 L770.9 781.2Z" fill="#fff" stroke="#111" stroke-width="0.6" stroke-linejoin="round"/>
<path d="M712.6 788.7 L714.6 768.9 L714.6 721.0 L715.3 636.6 L715.7 624.3 L719.4 620.2 L720.8 616.1 L722.1 620.2 L723.5 631.1 L724.9 643.4 L726.9 649.6 L730.3 647.5 L731.0 639.3 L733.5 635.9 L736.2 639.3 L736.2 647.5 L738.5 655.7 L739.2 669.4 L741.3 683.1 L742.6 700.0 L742.6 707.3 L742.6 748.4 L744.7 754.5 L745.4 768.9 L745.4 788.7 L745.8 792.8 L739.9 792.8 L739.5 796.9 L734.0 796.9 L734.0 780.1 L721.2 780.1 L721.2 788.7Z" fill="#0dad1a" stroke="#111" stroke-width="0.6" stroke-linejoin="round"/>
<path d="M716.0 788.7 L716.7 762.0 L715.3 734.7 L716.7 707.3 L717.3 676.2 L718.7 653.0 L720.8 646.1 L722.8 650.2 L723.9 669.4 L725.3 685.8 L726.9 695.4 L728.3 696.7 L730.3 688.5 L732.4 680.3 L734.0 678.9 L736.5 683.1 L739.2 696.7 L739.5 700.5 L739.9 714.2 L740.9 734.7 L741.3 748.4 L742.6 756.6 L743.3 768.9 L742.6 792.8 L739.9 792.8 L739.5 796.9 L734.0 796.9 L734.0 780.1 L721.2 780.1 L721.2 788.7Z" fill="#ade60d" stroke="#111" stroke-width="0.6" stroke-linejoin="round"/>
<ellipse cx="733.8" cy="661.2" rx="1.1" ry="5.5" fill="#ade60d" stroke="#111" stroke-width="0.6" stroke-linejoin="round"/>
<ellipse cx="733.5" cy="673.5" rx="0.9" ry="2.2" fill="#ade60d" stroke="#111" stroke-width="0.6" stroke-linejoin="round"/>
<path d="M717.3 788.7 L718.0 762.0 L716.7 734.7 L718.7 707.3 L721.4 696.4 L725.5 706.0 L729.0 710.8 L733.8 708.7 L735.8 715.5 L737.2 734.7 L737.9 748.4 L739.9 756.6 L740.6 768.9 L739.9 792.8 L739.5 796.9 L734.0 796.9 L734.0 780.1 L721.2 780.1 L721.2 788.7Z" fill="#ffa500" stroke="#111" stroke-width="0.6" stroke-linejoin="round"/>
<path d="M723.9 780.1 L724.2 768.9 L727.6 762.0 L726.6 756.6 L728.0 754.9 L729.9 757.9 L728.6 762.0 L733.5 766.8 L732.7 773.0 L734.0 780.1Z" fill="#ff0000" stroke="#111" stroke-width="0.6" stroke-linejoin="round"/>
<ellipse cx="764.5" cy="699.8" rx="1.3" ry="1.3" fill="none" stroke="#112" stroke-width="0.5"/>
<ellipse cx="759.0" cy="726.5" rx="1.4" ry="1.2" fill="none" stroke="#112" stroke-width="0.5"/>
<ellipse cx="776.8" cy="744.0" rx="0.9" ry="2.4" fill="none" stroke="#112" stroke-width="0.5"/>
<path d="M795.3 651.3 L800.1 650.9 L796.0 653.7Z" fill="#5757ff" stroke="#111" stroke-width="0.6" stroke-linejoin="round"/>
<line x1="783.0" y1="660.1" x2="789.8" y2="665.0" stroke="#111" stroke-width="0.5"/>
<line x1="739.9" y1="576.7" x2="739.9" y2="570.3" stroke="#223" stroke-width="0.6"/>
<path d="M856.0 788.7 L856.8 777.3 L861.5 770.3 L858.4 766.8 L862.1 762.1 L863.3 755.1 L863.3 746.9 L868.0 741.0 L870.1 735.2 L871.5 739.8 L870.9 764.5 L871.3 788.7Z" fill="#5757ff" stroke="#111" stroke-width="0.6" stroke-linejoin="round"/>
<path d="M856.0 788.7 L856.8 777.3 L861.5 770.3 L858.4 766.8 L862.1 762.1 L863.3 755.1 L866.8 756.3 L870.3 763.3 L870.9 764.5 L871.3 788.7Z" fill="#0038ad" stroke="#111" stroke-width="0.6" stroke-linejoin="round"/>
</g>
<rect x="541.9" y="545.2" width="371.6" height="278.8" fill="none" stroke="#000" stroke-width="0.85"/>
<line x1="541.9" y1="824.0" x2="541.9" y2="814.5" stroke="#000" stroke-width="1.25"/>
<line x1="603.8" y1="824.0" x2="603.8" y2="814.5" stroke="#000" stroke-width="1.25"/>
<line x1="665.8" y1="824.0" x2="665.8" y2="814.5" stroke="#000" stroke-width="1.25"/>
<line x1="727.7" y1="824.0" x2="727.7" y2="814.5" stroke="#000" stroke-width="1.25"/>
<line x1="789.6" y1="824.0" x2="789.6" y2="814.5" stroke="#000" stroke-width="1.25"/>
<line x1="851.5" y1="824.0" x2="851.5" y2="814.5" stroke="#000" stroke-width="1.25"/>
<line x1="913.4" y1="824.0" x2="913.4" y2="814.5" stroke="#000" stroke-width="1.25"/>
<line x1="541.9" y1="545.2" x2="551.4" y2="545.2" stroke="#000" stroke-width="1.25"/>
<line x1="541.9" y1="580.6" x2="551.4" y2="580.6" stroke="#000" stroke-width="1.25"/>
<line x1="541.9" y1="616.0" x2="551.4" y2="616.0" stroke="#000" stroke-width="1.25"/>
<line x1="541.9" y1="651.3" x2="551.4" y2="651.3" stroke="#000" stroke-width="1.25"/>
<line x1="541.9" y1="686.7" x2="551.4" y2="686.7" stroke="#000" stroke-width="1.25"/>
<line x1="541.9" y1="722.0" x2="551.4" y2="722.0" stroke="#000" stroke-width="1.25"/>
<line x1="541.9" y1="757.4" x2="551.4" y2="757.4" stroke="#000" stroke-width="1.25"/>
<line x1="541.9" y1="792.8" x2="551.4" y2="792.8" stroke="#000" stroke-width="1.25"/>
<text x="541.9" y="839.0" font-size="10.40" text-anchor="middle" >74.4<tspan font-size="10.40" dy="-0.90">°</tspan><tspan dy="0.90" dx="-0.80">E</tspan></text>
<text x="603.8" y="839.0" font-size="10.40" text-anchor="middle" >74.7<tspan font-size="10.40" dy="-0.90">°</tspan><tspan dy="0.90" dx="-0.80">E</tspan></text>
<text x="665.8" y="839.0" font-size="10.40" text-anchor="middle" >75.0<tspan font-size="10.40" dy="-0.90">°</tspan><tspan dy="0.90" dx="-0.80">E</tspan></text>
<text x="727.7" y="839.0" font-size="10.40" text-anchor="middle" >75.3<tspan font-size="10.40" dy="-0.90">°</tspan><tspan dy="0.90" dx="-0.80">E</tspan></text>
<text x="789.6" y="839.0" font-size="10.40" text-anchor="middle" >75.6<tspan font-size="10.40" dy="-0.90">°</tspan><tspan dy="0.90" dx="-0.80">E</tspan></text>
<text x="851.5" y="839.0" font-size="10.40" text-anchor="middle" >75.9<tspan font-size="10.40" dy="-0.90">°</tspan><tspan dy="0.90" dx="-0.80">E</tspan></text>
<text x="913.4" y="839.0" font-size="10.40" text-anchor="middle" >76.2<tspan font-size="10.40" dy="-0.90">°</tspan><tspan dy="0.90" dx="-0.80">E</tspan></text>
<text x="535.2" y="548.9" font-size="10.40" text-anchor="end" >16</text>
<text x="535.2" y="584.2" font-size="10.40" text-anchor="end" >14</text>
<text x="535.2" y="619.6" font-size="10.40" text-anchor="end" >12</text>
<text x="535.2" y="654.9" font-size="10.40" text-anchor="end" >10</text>
<text x="535.2" y="690.3" font-size="10.40" text-anchor="end" >8</text>
<text x="535.2" y="725.6" font-size="10.40" text-anchor="end" >6</text>
<text x="535.2" y="761.0" font-size="10.40" text-anchor="end" >4</text>
<text x="535.2" y="796.4" font-size="10.40" text-anchor="end" >2</text>
<rect x="956.0" y="548.8" width="22.0" height="38.8" fill="#ff0000" stroke="#444" stroke-width="0.6"/>
<rect x="956.0" y="587.6" width="22.0" height="38.8" fill="#ffa500" stroke="#444" stroke-width="0.6"/>
<rect x="956.0" y="626.4" width="22.0" height="38.8" fill="#ade60d" stroke="#444" stroke-width="0.6"/>
<rect x="956.0" y="665.2" width="22.0" height="38.8" fill="#0dad1a" stroke="#444" stroke-width="0.6"/>
<rect x="956.0" y="704.0" width="22.0" height="38.8" fill="#0038ad" stroke="#444" stroke-width="0.6"/>
<rect x="956.0" y="742.8" width="22.0" height="38.8" fill="#5757ff" stroke="#444" stroke-width="0.6"/>
<rect x="956.0" y="781.6" width="22.0" height="38.8" fill="#ffffff" stroke="#444" stroke-width="0.6"/>
<line x1="956.0" y1="587.6" x2="978.0" y2="587.6" stroke="#111" stroke-width="0.7"/>
<line x1="956.0" y1="626.4" x2="978.0" y2="626.4" stroke="#111" stroke-width="0.7"/>
<line x1="956.0" y1="665.2" x2="978.0" y2="665.2" stroke="#111" stroke-width="0.7"/>
<line x1="956.0" y1="704.0" x2="978.0" y2="704.0" stroke="#111" stroke-width="0.7"/>
<line x1="956.0" y1="742.8" x2="978.0" y2="742.8" stroke="#111" stroke-width="0.7"/>
<line x1="956.0" y1="781.6" x2="978.0" y2="781.6" stroke="#111" stroke-width="0.7"/>
<text x="990.3" y="591.6" font-size="10.60" text-anchor="middle" >52</text>
<text x="990.3" y="630.4" font-size="10.60" text-anchor="middle" >44</text>
<text x="990.3" y="669.2" font-size="10.60" text-anchor="middle" >40</text>
<text x="990.3" y="708.0" font-size="10.60" text-anchor="middle" >36</text>
<text x="990.3" y="746.8" font-size="10.60" text-anchor="middle" >20</text>
<text x="990.3" y="785.6" font-size="10.60" text-anchor="middle" >17</text>
</g>
</svg></body></html>
